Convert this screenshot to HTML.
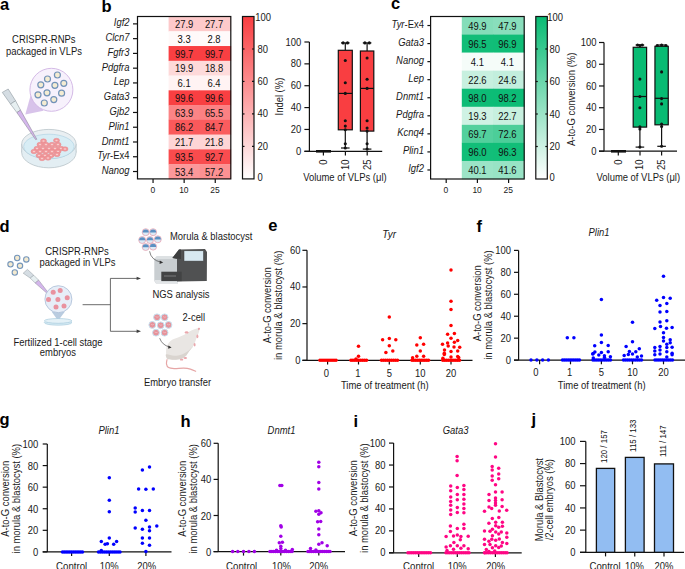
<!DOCTYPE html>
<html><head><meta charset="utf-8"><style>
html,body{margin:0;padding:0;background:#fff;}
svg{display:block;font-family:"Liberation Sans",sans-serif;}
</style></head><body>
<svg width="685" height="569" viewBox="0 0 685 569">
<rect width="685" height="569" fill="#fff"/>
<text transform="translate(0.00 9.90) scale(1 1.0)" font-size="16.5" text-anchor="start" font-weight="bold" font-style="normal" fill="#000">a</text>
<text transform="translate(101.50 11.90) scale(1 1.0)" font-size="16.5" text-anchor="start" font-weight="bold" font-style="normal" fill="#000">b</text>
<text transform="translate(391.00 9.00) scale(1 1.0)" font-size="16.5" text-anchor="start" font-weight="bold" font-style="normal" fill="#000">c</text>
<text transform="translate(-0.50 232.10) scale(1 1.0)" font-size="16.5" text-anchor="start" font-weight="bold" font-style="normal" fill="#000">d</text>
<text transform="translate(268.30 230.80) scale(1 1.0)" font-size="16.5" text-anchor="start" font-weight="bold" font-style="normal" fill="#000">e</text>
<text transform="translate(476.60 231.70) scale(1 1.0)" font-size="16.5" text-anchor="start" font-weight="bold" font-style="normal" fill="#000">f</text>
<text transform="translate(-0.60 425.00) scale(1 1.0)" font-size="16.5" text-anchor="start" font-weight="bold" font-style="normal" fill="#000">g</text>
<text transform="translate(180.60 427.00) scale(1 1.0)" font-size="16.5" text-anchor="start" font-weight="bold" font-style="normal" fill="#000">h</text>
<text transform="translate(353.60 427.00) scale(1 1.0)" font-size="16.5" text-anchor="start" font-weight="bold" font-style="normal" fill="#000">i</text>
<text transform="translate(531.60 425.00) scale(1 1.0)" font-size="16.5" text-anchor="start" font-weight="bold" font-style="normal" fill="#000">j</text>
<rect x="168.6" y="16.5" width="31.400000000000006" height="15.063636363636364" fill="#fdc9ca" stroke="none" stroke-width="1.1"/>
<text transform="translate(184.15 28.00) scale(1 1.07)" font-size="9.45" text-anchor="middle" font-weight="normal" font-style="normal" fill="#111">27.9</text>
<rect x="199.70000000000002" y="16.5" width="31.400000000000006" height="15.063636363636364" fill="#fdcaca" stroke="none" stroke-width="1.1"/>
<text transform="translate(214.05 28.00) scale(1 1.07)" font-size="9.45" text-anchor="middle" font-weight="normal" font-style="normal" fill="#111">27.7</text>
<line x1="133.0" y1="23.881818181818183" x2="137.5" y2="23.881818181818183" stroke="#111" stroke-width="1.2"/>
<text transform="translate(129.50 26.40) scale(1 1.07)" font-size="9.45" text-anchor="end" font-weight="normal" font-style="italic" fill="#1a1a1a">Igf2</text>
<rect x="168.6" y="31.263636363636365" width="31.400000000000006" height="15.063636363636364" fill="#fff9f9" stroke="none" stroke-width="1.1"/>
<text transform="translate(184.15 42.77) scale(1 1.07)" font-size="9.45" text-anchor="middle" font-weight="normal" font-style="normal" fill="#111">3.3</text>
<rect x="199.70000000000002" y="31.263636363636365" width="31.400000000000006" height="15.063636363636364" fill="#fffafa" stroke="none" stroke-width="1.1"/>
<text transform="translate(214.05 42.77) scale(1 1.07)" font-size="9.45" text-anchor="middle" font-weight="normal" font-style="normal" fill="#111">2.8</text>
<line x1="133.0" y1="38.64545454545455" x2="137.5" y2="38.64545454545455" stroke="#111" stroke-width="1.2"/>
<text transform="translate(129.50 41.17) scale(1 1.07)" font-size="9.45" text-anchor="end" font-weight="normal" font-style="italic" fill="#1a1a1a">Clcn7</text>
<rect x="168.6" y="46.02727272727273" width="31.400000000000006" height="15.063636363636364" fill="#f93f42" stroke="none" stroke-width="1.1"/>
<text transform="translate(184.15 57.53) scale(1 1.07)" font-size="9.45" text-anchor="middle" font-weight="normal" font-style="normal" fill="#111">99.7</text>
<rect x="199.70000000000002" y="46.02727272727273" width="31.400000000000006" height="15.063636363636364" fill="#f93f42" stroke="none" stroke-width="1.1"/>
<text transform="translate(214.05 57.53) scale(1 1.07)" font-size="9.45" text-anchor="middle" font-weight="normal" font-style="normal" fill="#111">99.7</text>
<line x1="133.0" y1="53.409090909090914" x2="137.5" y2="53.409090909090914" stroke="#111" stroke-width="1.2"/>
<text transform="translate(129.50 55.93) scale(1 1.07)" font-size="9.45" text-anchor="end" font-weight="normal" font-style="italic" fill="#1a1a1a">Fgfr3</text>
<rect x="168.6" y="60.79090909090909" width="31.400000000000006" height="15.063636363636364" fill="#fed9d9" stroke="none" stroke-width="1.1"/>
<text transform="translate(184.15 72.29) scale(1 1.07)" font-size="9.45" text-anchor="middle" font-weight="normal" font-style="normal" fill="#111">19.9</text>
<rect x="199.70000000000002" y="60.79090909090909" width="31.400000000000006" height="15.063636363636364" fill="#fedbdb" stroke="none" stroke-width="1.1"/>
<text transform="translate(214.05 72.29) scale(1 1.07)" font-size="9.45" text-anchor="middle" font-weight="normal" font-style="normal" fill="#111">18.8</text>
<line x1="133.0" y1="68.17272727272727" x2="137.5" y2="68.17272727272727" stroke="#111" stroke-width="1.2"/>
<text transform="translate(129.50 70.69) scale(1 1.07)" font-size="9.45" text-anchor="end" font-weight="normal" font-style="italic" fill="#1a1a1a">Pdgfra</text>
<rect x="168.6" y="75.55454545454546" width="31.400000000000006" height="15.063636363636364" fill="#fff3f3" stroke="none" stroke-width="1.1"/>
<text transform="translate(184.15 87.06) scale(1 1.07)" font-size="9.45" text-anchor="middle" font-weight="normal" font-style="normal" fill="#111">6.1</text>
<rect x="199.70000000000002" y="75.55454545454546" width="31.400000000000006" height="15.063636363636364" fill="#fff3f3" stroke="none" stroke-width="1.1"/>
<text transform="translate(214.05 87.06) scale(1 1.07)" font-size="9.45" text-anchor="middle" font-weight="normal" font-style="normal" fill="#111">6.4</text>
<line x1="133.0" y1="82.93636363636364" x2="137.5" y2="82.93636363636364" stroke="#111" stroke-width="1.2"/>
<text transform="translate(129.50 85.46) scale(1 1.07)" font-size="9.45" text-anchor="end" font-weight="normal" font-style="italic" fill="#1a1a1a">Lep</text>
<rect x="168.6" y="90.31818181818181" width="31.400000000000006" height="15.063636363636364" fill="#f93f42" stroke="none" stroke-width="1.1"/>
<text transform="translate(184.15 101.82) scale(1 1.07)" font-size="9.45" text-anchor="middle" font-weight="normal" font-style="normal" fill="#111">99.6</text>
<rect x="199.70000000000002" y="90.31818181818181" width="31.400000000000006" height="15.063636363636364" fill="#f93f42" stroke="none" stroke-width="1.1"/>
<text transform="translate(214.05 101.82) scale(1 1.07)" font-size="9.45" text-anchor="middle" font-weight="normal" font-style="normal" fill="#111">99.6</text>
<line x1="133.0" y1="97.69999999999999" x2="137.5" y2="97.69999999999999" stroke="#111" stroke-width="1.2"/>
<text transform="translate(129.50 100.22) scale(1 1.07)" font-size="9.45" text-anchor="end" font-weight="normal" font-style="italic" fill="#1a1a1a">Gata3</text>
<rect x="168.6" y="105.08181818181818" width="31.400000000000006" height="15.063636363636364" fill="#fb8486" stroke="none" stroke-width="1.1"/>
<text transform="translate(184.15 116.58) scale(1 1.07)" font-size="9.45" text-anchor="middle" font-weight="normal" font-style="normal" fill="#111">63.9</text>
<rect x="199.70000000000002" y="105.08181818181818" width="31.400000000000006" height="15.063636363636364" fill="#fb8183" stroke="none" stroke-width="1.1"/>
<text transform="translate(214.05 116.58) scale(1 1.07)" font-size="9.45" text-anchor="middle" font-weight="normal" font-style="normal" fill="#111">65.5</text>
<line x1="133.0" y1="112.46363636363635" x2="137.5" y2="112.46363636363635" stroke="#111" stroke-width="1.2"/>
<text transform="translate(129.50 114.98) scale(1 1.07)" font-size="9.45" text-anchor="end" font-weight="normal" font-style="italic" fill="#1a1a1a">Gjb2</text>
<rect x="168.6" y="119.84545454545454" width="31.400000000000006" height="15.063636363636364" fill="#fa595b" stroke="none" stroke-width="1.1"/>
<text transform="translate(184.15 131.35) scale(1 1.07)" font-size="9.45" text-anchor="middle" font-weight="normal" font-style="normal" fill="#111">86.2</text>
<rect x="199.70000000000002" y="119.84545454545454" width="31.400000000000006" height="15.063636363636364" fill="#fa5c5e" stroke="none" stroke-width="1.1"/>
<text transform="translate(214.05 131.35) scale(1 1.07)" font-size="9.45" text-anchor="middle" font-weight="normal" font-style="normal" fill="#111">84.7</text>
<line x1="133.0" y1="127.22727272727272" x2="137.5" y2="127.22727272727272" stroke="#111" stroke-width="1.2"/>
<text transform="translate(129.50 129.75) scale(1 1.07)" font-size="9.45" text-anchor="end" font-weight="normal" font-style="italic" fill="#1a1a1a">Plin1</text>
<rect x="168.6" y="134.60909090909092" width="31.400000000000006" height="15.063636363636364" fill="#fed5d6" stroke="none" stroke-width="1.1"/>
<text transform="translate(184.15 146.11) scale(1 1.07)" font-size="9.45" text-anchor="middle" font-weight="normal" font-style="normal" fill="#111">21.7</text>
<rect x="199.70000000000002" y="134.60909090909092" width="31.400000000000006" height="15.063636363636364" fill="#fed5d6" stroke="none" stroke-width="1.1"/>
<text transform="translate(214.05 146.11) scale(1 1.07)" font-size="9.45" text-anchor="middle" font-weight="normal" font-style="normal" fill="#111">21.8</text>
<line x1="133.0" y1="141.9909090909091" x2="137.5" y2="141.9909090909091" stroke="#111" stroke-width="1.2"/>
<text transform="translate(129.50 144.51) scale(1 1.07)" font-size="9.45" text-anchor="end" font-weight="normal" font-style="italic" fill="#1a1a1a">Dnmt1</text>
<rect x="168.6" y="149.37272727272727" width="31.400000000000006" height="15.063636363636364" fill="#f94b4d" stroke="none" stroke-width="1.1"/>
<text transform="translate(184.15 160.87) scale(1 1.07)" font-size="9.45" text-anchor="middle" font-weight="normal" font-style="normal" fill="#111">93.5</text>
<rect x="199.70000000000002" y="149.37272727272727" width="31.400000000000006" height="15.063636363636364" fill="#f94c4f" stroke="none" stroke-width="1.1"/>
<text transform="translate(214.05 160.87) scale(1 1.07)" font-size="9.45" text-anchor="middle" font-weight="normal" font-style="normal" fill="#111">92.7</text>
<line x1="133.0" y1="156.75454545454545" x2="137.5" y2="156.75454545454545" stroke="#111" stroke-width="1.2"/>
<text transform="translate(129.5 159.27446245454544) scale(1 1.07)" font-size="9.45" text-anchor="end" fill="#1a1a1a"><tspan font-style="italic">Tyr</tspan>-Ex4</text>
<rect x="168.6" y="164.13636363636363" width="31.400000000000006" height="15.063636363636364" fill="#fc989a" stroke="none" stroke-width="1.1"/>
<text transform="translate(184.15 175.64) scale(1 1.07)" font-size="9.45" text-anchor="middle" font-weight="normal" font-style="normal" fill="#111">53.4</text>
<rect x="199.70000000000002" y="164.13636363636363" width="31.400000000000006" height="15.063636363636364" fill="#fc9192" stroke="none" stroke-width="1.1"/>
<text transform="translate(214.05 175.64) scale(1 1.07)" font-size="9.45" text-anchor="middle" font-weight="normal" font-style="normal" fill="#111">57.2</text>
<line x1="133.0" y1="171.5181818181818" x2="137.5" y2="171.5181818181818" stroke="#111" stroke-width="1.2"/>
<text transform="translate(129.50 174.04) scale(1 1.07)" font-size="9.45" text-anchor="end" font-weight="normal" font-style="italic" fill="#1a1a1a">Nanog</text>
<rect x="137.5" y="16.5" width="93.30000000000001" height="162.4" fill="none" stroke="#111" stroke-width="1.2"/>
<line x1="153.05" y1="178.9" x2="153.05" y2="182.9" stroke="#111" stroke-width="1.2"/>
<text transform="translate(152.75 192.60) scale(1 1.12)" font-size="8.5" text-anchor="middle" font-weight="normal" font-style="normal" fill="#1a1a1a">0</text>
<line x1="184.15" y1="178.9" x2="184.15" y2="182.9" stroke="#111" stroke-width="1.2"/>
<text transform="translate(183.85 192.60) scale(1 1.12)" font-size="8.5" text-anchor="middle" font-weight="normal" font-style="normal" fill="#1a1a1a">10</text>
<line x1="215.25" y1="178.9" x2="215.25" y2="182.9" stroke="#111" stroke-width="1.2"/>
<text transform="translate(214.95 192.60) scale(1 1.12)" font-size="8.5" text-anchor="middle" font-weight="normal" font-style="normal" fill="#1a1a1a">25</text>
<defs><linearGradient id="gr" x1="0" y1="1" x2="0" y2="0"><stop offset="0" stop-color="#ffffff"/><stop offset="1" stop-color="#f93e41"/></linearGradient></defs>
<rect x="242.5" y="16.5" width="11.5" height="162.4" fill="url(#gr)" stroke="#111" stroke-width="1.2"/>
<text transform="translate(257.50 180.92) scale(1 1.07)" font-size="9.45" text-anchor="start" font-weight="normal" font-style="normal" fill="#1a1a1a">0</text>
<line x1="242.5" y1="146.42000000000002" x2="244.5" y2="146.42000000000002" stroke="#111" stroke-width="1.2"/>
<line x1="252" y1="146.42000000000002" x2="254" y2="146.42000000000002" stroke="#111" stroke-width="1.2"/>
<text transform="translate(257.50 149.94) scale(1 1.07)" font-size="9.45" text-anchor="start" font-weight="normal" font-style="normal" fill="#1a1a1a">20</text>
<line x1="242.5" y1="113.94000000000001" x2="244.5" y2="113.94000000000001" stroke="#111" stroke-width="1.2"/>
<line x1="252" y1="113.94000000000001" x2="254" y2="113.94000000000001" stroke="#111" stroke-width="1.2"/>
<text transform="translate(257.50 117.46) scale(1 1.07)" font-size="9.45" text-anchor="start" font-weight="normal" font-style="normal" fill="#1a1a1a">40</text>
<line x1="242.5" y1="81.46000000000001" x2="244.5" y2="81.46000000000001" stroke="#111" stroke-width="1.2"/>
<line x1="252" y1="81.46000000000001" x2="254" y2="81.46000000000001" stroke="#111" stroke-width="1.2"/>
<text transform="translate(257.50 84.98) scale(1 1.07)" font-size="9.45" text-anchor="start" font-weight="normal" font-style="normal" fill="#1a1a1a">60</text>
<line x1="242.5" y1="48.98000000000002" x2="244.5" y2="48.98000000000002" stroke="#111" stroke-width="1.2"/>
<line x1="252" y1="48.98000000000002" x2="254" y2="48.98000000000002" stroke="#111" stroke-width="1.2"/>
<text transform="translate(257.50 52.50) scale(1 1.07)" font-size="9.45" text-anchor="start" font-weight="normal" font-style="normal" fill="#1a1a1a">80</text>
<text transform="translate(255.20 20.62) scale(1 1.07)" font-size="9.45" text-anchor="start" font-weight="normal" font-style="normal" fill="#1a1a1a">100</text>
<line x1="309.4" y1="42.0" x2="309.4" y2="151.3" stroke="#111" stroke-width="1.2"/>
<line x1="304.4" y1="151.3" x2="382.2" y2="151.3" stroke="#111" stroke-width="1.2"/>
<line x1="304.4" y1="151.3" x2="309.4" y2="151.3" stroke="#111" stroke-width="1.2"/>
<text transform="translate(301.20 154.82) scale(1 1.07)" font-size="9.45" text-anchor="end" font-weight="normal" font-style="normal" fill="#1a1a1a">0</text>
<line x1="304.4" y1="129.44" x2="309.4" y2="129.44" stroke="#111" stroke-width="1.2"/>
<text transform="translate(301.20 132.96) scale(1 1.07)" font-size="9.45" text-anchor="end" font-weight="normal" font-style="normal" fill="#1a1a1a">20</text>
<line x1="304.4" y1="107.58000000000001" x2="309.4" y2="107.58000000000001" stroke="#111" stroke-width="1.2"/>
<text transform="translate(301.20 111.10) scale(1 1.07)" font-size="9.45" text-anchor="end" font-weight="normal" font-style="normal" fill="#1a1a1a">40</text>
<line x1="304.4" y1="85.72" x2="309.4" y2="85.72" stroke="#111" stroke-width="1.2"/>
<text transform="translate(301.20 89.24) scale(1 1.07)" font-size="9.45" text-anchor="end" font-weight="normal" font-style="normal" fill="#1a1a1a">60</text>
<line x1="304.4" y1="63.860000000000014" x2="309.4" y2="63.860000000000014" stroke="#111" stroke-width="1.2"/>
<text transform="translate(301.20 67.38) scale(1 1.07)" font-size="9.45" text-anchor="end" font-weight="normal" font-style="normal" fill="#1a1a1a">80</text>
<line x1="304.4" y1="42.0" x2="309.4" y2="42.0" stroke="#111" stroke-width="1.2"/>
<text transform="translate(301.20 45.52) scale(1 1.07)" font-size="9.45" text-anchor="end" font-weight="normal" font-style="normal" fill="#1a1a1a">100</text>
<line x1="323.4" y1="151.3" x2="323.4" y2="155.60000000000002" stroke="#111" stroke-width="1.2"/>
<text transform="translate(326.78 159.50) rotate(-90) scale(1 1.07)" font-size="9.45" text-anchor="end" font-weight="normal" font-style="normal" fill="#1a1a1a">0</text>
<line x1="345.4" y1="151.3" x2="345.4" y2="155.60000000000002" stroke="#111" stroke-width="1.2"/>
<text transform="translate(348.78 159.50) rotate(-90) scale(1 1.07)" font-size="9.45" text-anchor="end" font-weight="normal" font-style="normal" fill="#1a1a1a">10</text>
<line x1="367.2" y1="151.3" x2="367.2" y2="155.60000000000002" stroke="#111" stroke-width="1.2"/>
<text transform="translate(370.58 159.50) rotate(-90) scale(1 1.07)" font-size="9.45" text-anchor="end" font-weight="normal" font-style="normal" fill="#1a1a1a">25</text>
<text transform="translate(283.40 96.60) rotate(-90) scale(1 1.07)" font-size="9.45" text-anchor="middle" font-weight="normal" font-style="normal" fill="#1a1a1a">Indel (%)</text>
<text transform="translate(344.90 181.20) scale(1 1.07)" font-size="9.45" text-anchor="middle" font-weight="normal" font-style="normal" fill="#1a1a1a">Volume of VLPs (μl)</text>
<line x1="316" y1="151.3" x2="331" y2="151.3" stroke="#111" stroke-width="2.6"/>
<line x1="345.3" y1="42.9" x2="345.3" y2="50.3" stroke="#111" stroke-width="1.2"/>
<line x1="345.3" y1="129.8" x2="345.3" y2="148.0" stroke="#111" stroke-width="1.2"/>
<line x1="341.0" y1="42.9" x2="349.6" y2="42.9" stroke="#111" stroke-width="1.2"/>
<line x1="341.0" y1="148.0" x2="349.6" y2="148.0" stroke="#111" stroke-width="1.2"/>
<rect x="338.3" y="50.3" width="14.0" height="79.50000000000001" fill="#f93e41" stroke="#111" stroke-width="1.2"/>
<line x1="338.3" y1="93.4" x2="352.3" y2="93.4" stroke="#111" stroke-width="1.2"/>
<circle cx="343.10" cy="42.90" r="1.55" fill="#111" stroke="none" stroke-width="0"/>
<circle cx="347.50" cy="42.90" r="1.55" fill="#111" stroke="none" stroke-width="0"/>
<circle cx="345.30" cy="60.50" r="1.55" fill="#111" stroke="none" stroke-width="0"/>
<circle cx="345.30" cy="82.70" r="1.55" fill="#111" stroke="none" stroke-width="0"/>
<circle cx="345.30" cy="93.40" r="1.55" fill="#111" stroke="none" stroke-width="0"/>
<circle cx="345.30" cy="120.80" r="1.55" fill="#111" stroke="none" stroke-width="0"/>
<circle cx="345.30" cy="126.10" r="1.55" fill="#111" stroke="none" stroke-width="0"/>
<circle cx="345.30" cy="129.80" r="1.55" fill="#111" stroke="none" stroke-width="0"/>
<circle cx="345.30" cy="143.70" r="1.55" fill="#111" stroke="none" stroke-width="0"/>
<circle cx="345.30" cy="148.00" r="1.55" fill="#111" stroke="none" stroke-width="0"/>
<line x1="367.1" y1="42.9" x2="367.1" y2="51.0" stroke="#111" stroke-width="1.2"/>
<line x1="367.1" y1="131.1" x2="367.1" y2="149.1" stroke="#111" stroke-width="1.2"/>
<line x1="362.8" y1="42.9" x2="371.40000000000003" y2="42.9" stroke="#111" stroke-width="1.2"/>
<line x1="362.8" y1="149.1" x2="371.40000000000003" y2="149.1" stroke="#111" stroke-width="1.2"/>
<rect x="360.40000000000003" y="51.0" width="13.4" height="80.1" fill="#f93e41" stroke="#111" stroke-width="1.2"/>
<line x1="360.40000000000003" y1="88.4" x2="373.8" y2="88.4" stroke="#111" stroke-width="1.2"/>
<circle cx="364.90" cy="42.90" r="1.55" fill="#111" stroke="none" stroke-width="0"/>
<circle cx="369.30" cy="42.90" r="1.55" fill="#111" stroke="none" stroke-width="0"/>
<circle cx="367.10" cy="58.00" r="1.55" fill="#111" stroke="none" stroke-width="0"/>
<circle cx="367.10" cy="79.20" r="1.55" fill="#111" stroke="none" stroke-width="0"/>
<circle cx="367.10" cy="88.40" r="1.55" fill="#111" stroke="none" stroke-width="0"/>
<circle cx="367.10" cy="120.80" r="1.55" fill="#111" stroke="none" stroke-width="0"/>
<circle cx="367.10" cy="128.00" r="1.55" fill="#111" stroke="none" stroke-width="0"/>
<circle cx="367.10" cy="131.10" r="1.55" fill="#111" stroke="none" stroke-width="0"/>
<circle cx="367.10" cy="143.80" r="1.55" fill="#111" stroke="none" stroke-width="0"/>
<circle cx="367.10" cy="149.10" r="1.55" fill="#111" stroke="none" stroke-width="0"/>
<rect x="461.8" y="16.5" width="31.500000000000007" height="18.355555555555558" fill="#84ddb9" stroke="none" stroke-width="1.1"/>
<text transform="translate(477.40 29.65) scale(1 1.07)" font-size="9.45" text-anchor="middle" font-weight="normal" font-style="normal" fill="#111">49.9</text>
<rect x="493.00000000000006" y="16.5" width="31.500000000000007" height="18.355555555555558" fill="#89debc" stroke="none" stroke-width="1.1"/>
<text transform="translate(507.40 29.65) scale(1 1.07)" font-size="9.45" text-anchor="middle" font-weight="normal" font-style="normal" fill="#111">47.9</text>
<line x1="427.4" y1="25.52777777777778" x2="430.6" y2="25.52777777777778" stroke="#111" stroke-width="1.2"/>
<text transform="translate(423.9 28.047694777777778) scale(1 1.07)" font-size="9.45" text-anchor="end" fill="#1a1a1a"><tspan font-style="italic">Tyr</tspan>-Ex4</text>
<rect x="461.8" y="34.55555555555556" width="31.500000000000007" height="18.355555555555558" fill="#11bd78" stroke="none" stroke-width="1.1"/>
<text transform="translate(477.40 47.70) scale(1 1.07)" font-size="9.45" text-anchor="middle" font-weight="normal" font-style="normal" fill="#111">96.5</text>
<rect x="493.00000000000006" y="34.55555555555556" width="31.500000000000007" height="18.355555555555558" fill="#10bd77" stroke="none" stroke-width="1.1"/>
<text transform="translate(507.40 47.70) scale(1 1.07)" font-size="9.45" text-anchor="middle" font-weight="normal" font-style="normal" fill="#111">96.9</text>
<line x1="427.4" y1="43.583333333333336" x2="430.6" y2="43.583333333333336" stroke="#111" stroke-width="1.2"/>
<text transform="translate(423.90 46.10) scale(1 1.07)" font-size="9.45" text-anchor="end" font-weight="normal" font-style="italic" fill="#1a1a1a">Gata3</text>
<rect x="461.8" y="52.611111111111114" width="31.500000000000007" height="18.355555555555558" fill="#f5fcf9" stroke="none" stroke-width="1.1"/>
<text transform="translate(477.40 65.76) scale(1 1.07)" font-size="9.45" text-anchor="middle" font-weight="normal" font-style="normal" fill="#111">4.1</text>
<rect x="493.00000000000006" y="52.611111111111114" width="31.500000000000007" height="18.355555555555558" fill="#f5fcf9" stroke="none" stroke-width="1.1"/>
<text transform="translate(507.40 65.76) scale(1 1.07)" font-size="9.45" text-anchor="middle" font-weight="normal" font-style="normal" fill="#111">4.1</text>
<line x1="427.4" y1="61.63888888888889" x2="430.6" y2="61.63888888888889" stroke="#111" stroke-width="1.2"/>
<text transform="translate(423.90 64.16) scale(1 1.07)" font-size="9.45" text-anchor="end" font-weight="normal" font-style="italic" fill="#1a1a1a">Nanog</text>
<rect x="461.8" y="70.66666666666667" width="31.500000000000007" height="18.355555555555558" fill="#c7f0df" stroke="none" stroke-width="1.1"/>
<text transform="translate(477.40 83.81) scale(1 1.07)" font-size="9.45" text-anchor="middle" font-weight="normal" font-style="normal" fill="#111">22.6</text>
<rect x="493.00000000000006" y="70.66666666666667" width="31.500000000000007" height="18.355555555555558" fill="#c2eedd" stroke="none" stroke-width="1.1"/>
<text transform="translate(507.40 83.81) scale(1 1.07)" font-size="9.45" text-anchor="middle" font-weight="normal" font-style="normal" fill="#111">24.6</text>
<line x1="427.4" y1="79.69444444444446" x2="430.6" y2="79.69444444444446" stroke="#111" stroke-width="1.2"/>
<text transform="translate(423.90 82.21) scale(1 1.07)" font-size="9.45" text-anchor="end" font-weight="normal" font-style="italic" fill="#1a1a1a">Lep</text>
<rect x="461.8" y="88.72222222222223" width="31.500000000000007" height="18.355555555555558" fill="#0dbc76" stroke="none" stroke-width="1.1"/>
<text transform="translate(477.40 101.87) scale(1 1.07)" font-size="9.45" text-anchor="middle" font-weight="normal" font-style="normal" fill="#111">98.0</text>
<rect x="493.00000000000006" y="88.72222222222223" width="31.500000000000007" height="18.355555555555558" fill="#0cbc76" stroke="none" stroke-width="1.1"/>
<text transform="translate(507.40 101.87) scale(1 1.07)" font-size="9.45" text-anchor="middle" font-weight="normal" font-style="normal" fill="#111">98.2</text>
<line x1="427.4" y1="97.75" x2="430.6" y2="97.75" stroke="#111" stroke-width="1.2"/>
<text transform="translate(423.90 100.27) scale(1 1.07)" font-size="9.45" text-anchor="end" font-weight="normal" font-style="italic" fill="#1a1a1a">Dnmt1</text>
<rect x="461.8" y="106.77777777777779" width="31.500000000000007" height="18.355555555555558" fill="#cff2e4" stroke="none" stroke-width="1.1"/>
<text transform="translate(477.40 119.93) scale(1 1.07)" font-size="9.45" text-anchor="middle" font-weight="normal" font-style="normal" fill="#111">19.3</text>
<rect x="493.00000000000006" y="106.77777777777779" width="31.500000000000007" height="18.355555555555558" fill="#c7f0df" stroke="none" stroke-width="1.1"/>
<text transform="translate(507.40 119.93) scale(1 1.07)" font-size="9.45" text-anchor="middle" font-weight="normal" font-style="normal" fill="#111">22.7</text>
<line x1="427.4" y1="115.80555555555557" x2="430.6" y2="115.80555555555557" stroke="#111" stroke-width="1.2"/>
<text transform="translate(423.90 118.33) scale(1 1.07)" font-size="9.45" text-anchor="end" font-weight="normal" font-style="italic" fill="#1a1a1a">Pdgfra</text>
<rect x="461.8" y="124.83333333333334" width="31.500000000000007" height="18.355555555555558" fill="#53d09d" stroke="none" stroke-width="1.1"/>
<text transform="translate(477.40 137.98) scale(1 1.07)" font-size="9.45" text-anchor="middle" font-weight="normal" font-style="normal" fill="#111">69.7</text>
<rect x="493.00000000000006" y="124.83333333333334" width="31.500000000000007" height="18.355555555555558" fill="#4cce99" stroke="none" stroke-width="1.1"/>
<text transform="translate(507.40 137.98) scale(1 1.07)" font-size="9.45" text-anchor="middle" font-weight="normal" font-style="normal" fill="#111">72.6</text>
<line x1="427.4" y1="133.86111111111111" x2="430.6" y2="133.86111111111111" stroke="#111" stroke-width="1.2"/>
<text transform="translate(423.90 136.38) scale(1 1.07)" font-size="9.45" text-anchor="end" font-weight="normal" font-style="italic" fill="#1a1a1a">Kcnq4</text>
<rect x="461.8" y="142.8888888888889" width="31.500000000000007" height="18.355555555555558" fill="#12be79" stroke="none" stroke-width="1.1"/>
<text transform="translate(477.40 156.04) scale(1 1.07)" font-size="9.45" text-anchor="middle" font-weight="normal" font-style="normal" fill="#111">96.0</text>
<rect x="493.00000000000006" y="142.8888888888889" width="31.500000000000007" height="18.355555555555558" fill="#11be78" stroke="none" stroke-width="1.1"/>
<text transform="translate(507.40 156.04) scale(1 1.07)" font-size="9.45" text-anchor="middle" font-weight="normal" font-style="normal" fill="#111">96.3</text>
<line x1="427.4" y1="151.91666666666669" x2="430.6" y2="151.91666666666669" stroke="#111" stroke-width="1.2"/>
<text transform="translate(423.90 154.44) scale(1 1.07)" font-size="9.45" text-anchor="end" font-weight="normal" font-style="italic" fill="#1a1a1a">Plin1</text>
<rect x="461.8" y="160.94444444444446" width="31.500000000000007" height="18.355555555555558" fill="#9ce4c7" stroke="none" stroke-width="1.1"/>
<text transform="translate(477.40 174.09) scale(1 1.07)" font-size="9.45" text-anchor="middle" font-weight="normal" font-style="normal" fill="#111">40.1</text>
<rect x="493.00000000000006" y="160.94444444444446" width="31.500000000000007" height="18.355555555555558" fill="#98e3c5" stroke="none" stroke-width="1.1"/>
<text transform="translate(507.40 174.09) scale(1 1.07)" font-size="9.45" text-anchor="middle" font-weight="normal" font-style="normal" fill="#111">41.6</text>
<line x1="427.4" y1="169.97222222222223" x2="430.6" y2="169.97222222222223" stroke="#111" stroke-width="1.2"/>
<text transform="translate(423.90 172.49) scale(1 1.07)" font-size="9.45" text-anchor="end" font-weight="normal" font-style="italic" fill="#1a1a1a">Igf2</text>
<rect x="430.6" y="16.5" width="93.60000000000002" height="162.5" fill="none" stroke="#111" stroke-width="1.2"/>
<line x1="446.20000000000005" y1="179.0" x2="446.20000000000005" y2="183.0" stroke="#111" stroke-width="1.2"/>
<text transform="translate(445.90 192.60) scale(1 1.12)" font-size="8.5" text-anchor="middle" font-weight="normal" font-style="normal" fill="#1a1a1a">0</text>
<line x1="477.40000000000003" y1="179.0" x2="477.40000000000003" y2="183.0" stroke="#111" stroke-width="1.2"/>
<text transform="translate(477.10 192.60) scale(1 1.12)" font-size="8.5" text-anchor="middle" font-weight="normal" font-style="normal" fill="#1a1a1a">10</text>
<line x1="508.6" y1="179.0" x2="508.6" y2="183.0" stroke="#111" stroke-width="1.2"/>
<text transform="translate(508.30 192.60) scale(1 1.12)" font-size="8.5" text-anchor="middle" font-weight="normal" font-style="normal" fill="#1a1a1a">25</text>
<defs><linearGradient id="gg" x1="0" y1="1" x2="0" y2="0"><stop offset="0" stop-color="#ffffff"/><stop offset="1" stop-color="#08bb73"/></linearGradient></defs>
<rect x="535.8" y="16.5" width="11.5" height="162.5" fill="url(#gg)" stroke="#111" stroke-width="1.2"/>
<text transform="translate(549.50 181.02) scale(1 1.07)" font-size="9.45" text-anchor="start" font-weight="normal" font-style="normal" fill="#1a1a1a">0</text>
<line x1="535.8" y1="146.5" x2="537.8" y2="146.5" stroke="#111" stroke-width="1.2"/>
<line x1="545.3" y1="146.5" x2="547.3" y2="146.5" stroke="#111" stroke-width="1.2"/>
<text transform="translate(549.50 150.02) scale(1 1.07)" font-size="9.45" text-anchor="start" font-weight="normal" font-style="normal" fill="#1a1a1a">20</text>
<line x1="535.8" y1="114.0" x2="537.8" y2="114.0" stroke="#111" stroke-width="1.2"/>
<line x1="545.3" y1="114.0" x2="547.3" y2="114.0" stroke="#111" stroke-width="1.2"/>
<text transform="translate(549.50 117.52) scale(1 1.07)" font-size="9.45" text-anchor="start" font-weight="normal" font-style="normal" fill="#1a1a1a">40</text>
<line x1="535.8" y1="81.5" x2="537.8" y2="81.5" stroke="#111" stroke-width="1.2"/>
<line x1="545.3" y1="81.5" x2="547.3" y2="81.5" stroke="#111" stroke-width="1.2"/>
<text transform="translate(549.50 85.02) scale(1 1.07)" font-size="9.45" text-anchor="start" font-weight="normal" font-style="normal" fill="#1a1a1a">60</text>
<line x1="535.8" y1="49.0" x2="537.8" y2="49.0" stroke="#111" stroke-width="1.2"/>
<line x1="545.3" y1="49.0" x2="547.3" y2="49.0" stroke="#111" stroke-width="1.2"/>
<text transform="translate(549.50 52.52) scale(1 1.07)" font-size="9.45" text-anchor="start" font-weight="normal" font-style="normal" fill="#1a1a1a">80</text>
<text transform="translate(547.20 20.62) scale(1 1.07)" font-size="9.45" text-anchor="start" font-weight="normal" font-style="normal" fill="#1a1a1a">100</text>
<line x1="604.0" y1="42.5" x2="604.0" y2="151.2" stroke="#111" stroke-width="1.2"/>
<line x1="599.0" y1="151.2" x2="677" y2="151.2" stroke="#111" stroke-width="1.2"/>
<line x1="599.0" y1="151.2" x2="604.0" y2="151.2" stroke="#111" stroke-width="1.2"/>
<text transform="translate(596.50 154.72) scale(1 1.07)" font-size="9.45" text-anchor="end" font-weight="normal" font-style="normal" fill="#1a1a1a">0</text>
<line x1="599.0" y1="129.45999999999998" x2="604.0" y2="129.45999999999998" stroke="#111" stroke-width="1.2"/>
<text transform="translate(596.50 132.98) scale(1 1.07)" font-size="9.45" text-anchor="end" font-weight="normal" font-style="normal" fill="#1a1a1a">20</text>
<line x1="599.0" y1="107.72" x2="604.0" y2="107.72" stroke="#111" stroke-width="1.2"/>
<text transform="translate(596.50 111.24) scale(1 1.07)" font-size="9.45" text-anchor="end" font-weight="normal" font-style="normal" fill="#1a1a1a">40</text>
<line x1="599.0" y1="85.98" x2="604.0" y2="85.98" stroke="#111" stroke-width="1.2"/>
<text transform="translate(596.50 89.50) scale(1 1.07)" font-size="9.45" text-anchor="end" font-weight="normal" font-style="normal" fill="#1a1a1a">60</text>
<line x1="599.0" y1="64.24" x2="604.0" y2="64.24" stroke="#111" stroke-width="1.2"/>
<text transform="translate(596.50 67.76) scale(1 1.07)" font-size="9.45" text-anchor="end" font-weight="normal" font-style="normal" fill="#1a1a1a">80</text>
<line x1="599.0" y1="42.5" x2="604.0" y2="42.5" stroke="#111" stroke-width="1.2"/>
<text transform="translate(596.50 46.02) scale(1 1.07)" font-size="9.45" text-anchor="end" font-weight="normal" font-style="normal" fill="#1a1a1a">100</text>
<line x1="618.3" y1="151.2" x2="618.3" y2="155.5" stroke="#111" stroke-width="1.2"/>
<text transform="translate(621.68 159.50) rotate(-90) scale(1 1.07)" font-size="9.45" text-anchor="end" font-weight="normal" font-style="normal" fill="#1a1a1a">0</text>
<line x1="640" y1="151.2" x2="640" y2="155.5" stroke="#111" stroke-width="1.2"/>
<text transform="translate(643.38 159.50) rotate(-90) scale(1 1.07)" font-size="9.45" text-anchor="end" font-weight="normal" font-style="normal" fill="#1a1a1a">10</text>
<line x1="661.6" y1="151.2" x2="661.6" y2="155.5" stroke="#111" stroke-width="1.2"/>
<text transform="translate(664.98 159.50) rotate(-90) scale(1 1.07)" font-size="9.45" text-anchor="end" font-weight="normal" font-style="normal" fill="#1a1a1a">25</text>
<text transform="translate(575.10 99.30) rotate(-90) scale(1 1.07)" font-size="9.45" text-anchor="middle" font-weight="normal" font-style="normal" fill="#1a1a1a">A-to-G conversion (%)</text>
<text transform="translate(638.30 181.20) scale(1 1.07)" font-size="9.45" text-anchor="middle" font-weight="normal" font-style="normal" fill="#1a1a1a">Volume of VLPs (μl)</text>
<line x1="611" y1="151.3" x2="626" y2="151.3" stroke="#111" stroke-width="2.6"/>
<line x1="639.9" y1="45.0" x2="639.9" y2="47.3" stroke="#111" stroke-width="1.2"/>
<line x1="639.9" y1="127.1" x2="639.9" y2="147.1" stroke="#111" stroke-width="1.2"/>
<line x1="635.6" y1="45.0" x2="644.1999999999999" y2="45.0" stroke="#111" stroke-width="1.2"/>
<line x1="635.6" y1="147.1" x2="644.1999999999999" y2="147.1" stroke="#111" stroke-width="1.2"/>
<rect x="633.1999999999999" y="47.3" width="13.4" height="79.8" fill="#08bb73" stroke="#111" stroke-width="1.2"/>
<line x1="633.1999999999999" y1="96.5" x2="646.6" y2="96.5" stroke="#111" stroke-width="1.2"/>
<circle cx="637.60" cy="45.00" r="1.55" fill="#111" stroke="none" stroke-width="0"/>
<circle cx="639.90" cy="45.50" r="1.55" fill="#111" stroke="none" stroke-width="0"/>
<circle cx="642.20" cy="45.00" r="1.55" fill="#111" stroke="none" stroke-width="0"/>
<circle cx="639.90" cy="79.10" r="1.55" fill="#111" stroke="none" stroke-width="0"/>
<circle cx="639.90" cy="96.50" r="1.55" fill="#111" stroke="none" stroke-width="0"/>
<circle cx="639.90" cy="107.70" r="1.55" fill="#111" stroke="none" stroke-width="0"/>
<circle cx="639.90" cy="126.80" r="1.55" fill="#111" stroke="none" stroke-width="0"/>
<circle cx="639.90" cy="129.00" r="1.55" fill="#111" stroke="none" stroke-width="0"/>
<circle cx="639.90" cy="147.10" r="1.55" fill="#111" stroke="none" stroke-width="0"/>
<line x1="661.6" y1="45.0" x2="661.6" y2="46.3" stroke="#111" stroke-width="1.2"/>
<line x1="661.6" y1="124.8" x2="661.6" y2="146.3" stroke="#111" stroke-width="1.2"/>
<line x1="657.3000000000001" y1="45.0" x2="665.9" y2="45.0" stroke="#111" stroke-width="1.2"/>
<line x1="657.3000000000001" y1="146.3" x2="665.9" y2="146.3" stroke="#111" stroke-width="1.2"/>
<rect x="654.95" y="46.3" width="13.3" height="78.5" fill="#08bb73" stroke="#111" stroke-width="1.2"/>
<line x1="654.95" y1="98.3" x2="668.25" y2="98.3" stroke="#111" stroke-width="1.2"/>
<circle cx="657.20" cy="45.50" r="1.55" fill="#111" stroke="none" stroke-width="0"/>
<circle cx="661.60" cy="45.00" r="1.55" fill="#111" stroke="none" stroke-width="0"/>
<circle cx="666.00" cy="45.50" r="1.55" fill="#111" stroke="none" stroke-width="0"/>
<circle cx="661.60" cy="71.90" r="1.55" fill="#111" stroke="none" stroke-width="0"/>
<circle cx="661.60" cy="98.60" r="1.55" fill="#111" stroke="none" stroke-width="0"/>
<circle cx="661.60" cy="103.90" r="1.55" fill="#111" stroke="none" stroke-width="0"/>
<circle cx="661.60" cy="124.00" r="1.55" fill="#111" stroke="none" stroke-width="0"/>
<circle cx="661.60" cy="126.50" r="1.55" fill="#111" stroke="none" stroke-width="0"/>
<circle cx="661.60" cy="146.30" r="1.55" fill="#111" stroke="none" stroke-width="0"/>
<line x1="307.0" y1="250.3" x2="307.0" y2="360.3" stroke="#111" stroke-width="1.2"/>
<line x1="302.4" y1="360.3" x2="472.5" y2="360.3" stroke="#111" stroke-width="1.2"/>
<line x1="302.4" y1="360.3" x2="307.0" y2="360.3" stroke="#111" stroke-width="1.2"/>
<text transform="translate(300.50 363.82) scale(1 1.07)" font-size="9.45" text-anchor="end" font-weight="normal" font-style="normal" fill="#1a1a1a">0</text>
<line x1="302.4" y1="323.6333333333333" x2="307.0" y2="323.6333333333333" stroke="#111" stroke-width="1.2"/>
<text transform="translate(300.50 327.15) scale(1 1.07)" font-size="9.45" text-anchor="end" font-weight="normal" font-style="normal" fill="#1a1a1a">20</text>
<line x1="302.4" y1="286.9666666666667" x2="307.0" y2="286.9666666666667" stroke="#111" stroke-width="1.2"/>
<text transform="translate(300.50 290.49) scale(1 1.07)" font-size="9.45" text-anchor="end" font-weight="normal" font-style="normal" fill="#1a1a1a">40</text>
<line x1="302.4" y1="250.3" x2="307.0" y2="250.3" stroke="#111" stroke-width="1.2"/>
<text transform="translate(300.50 253.82) scale(1 1.07)" font-size="9.45" text-anchor="end" font-weight="normal" font-style="normal" fill="#1a1a1a">60</text>
<line x1="327.6" y1="360.3" x2="327.6" y2="364.5" stroke="#111" stroke-width="1.2"/>
<text transform="translate(326.30 376.50) scale(1 1.07)" font-size="9.45" text-anchor="middle" font-weight="normal" font-style="normal" fill="#1a1a1a">0</text>
<line x1="358.5" y1="360.3" x2="358.5" y2="364.5" stroke="#111" stroke-width="1.2"/>
<text transform="translate(357.80 376.50) scale(1 1.07)" font-size="9.45" text-anchor="middle" font-weight="normal" font-style="normal" fill="#1a1a1a">1</text>
<line x1="389.3" y1="360.3" x2="389.3" y2="364.5" stroke="#111" stroke-width="1.2"/>
<text transform="translate(389.30 376.50) scale(1 1.07)" font-size="9.45" text-anchor="middle" font-weight="normal" font-style="normal" fill="#1a1a1a">5</text>
<line x1="420.3" y1="360.3" x2="420.3" y2="364.5" stroke="#111" stroke-width="1.2"/>
<text transform="translate(420.30 376.50) scale(1 1.07)" font-size="9.45" text-anchor="middle" font-weight="normal" font-style="normal" fill="#1a1a1a">10</text>
<line x1="451.0" y1="360.3" x2="451.0" y2="364.5" stroke="#111" stroke-width="1.2"/>
<text transform="translate(451.00 376.50) scale(1 1.07)" font-size="9.45" text-anchor="middle" font-weight="normal" font-style="normal" fill="#1a1a1a">20</text>
<text transform="translate(384.80 388.60) scale(1 1.07)" font-size="9.45" text-anchor="middle" font-weight="normal" font-style="normal" fill="#1a1a1a">Time of treatment (h)</text>
<text transform="translate(389.20 237.50) scale(1 1.07)" font-size="10" text-anchor="middle" font-weight="normal" font-style="italic" fill="#1a1a1a">Tyr</text>
<text transform="translate(271.00 305.30) rotate(-90) scale(1 1.07)" font-size="9.45" text-anchor="middle" font-weight="normal" font-style="normal" fill="#1a1a1a">A-to-G conversion</text>
<text transform="translate(282.00 305.30) rotate(-90) scale(1 1.07)" font-size="9.45" text-anchor="middle" font-weight="normal" font-style="normal" fill="#1a1a1a">in morula &amp; blastocyst (%)</text>
<circle cx="320.00" cy="360.30" r="1.75" fill="#ff0000" stroke="none" stroke-width="0"/>
<circle cx="322.00" cy="360.30" r="1.75" fill="#ff0000" stroke="none" stroke-width="0"/>
<circle cx="324.00" cy="360.30" r="1.75" fill="#ff0000" stroke="none" stroke-width="0"/>
<circle cx="326.00" cy="360.30" r="1.75" fill="#ff0000" stroke="none" stroke-width="0"/>
<circle cx="328.00" cy="360.30" r="1.75" fill="#ff0000" stroke="none" stroke-width="0"/>
<circle cx="330.00" cy="360.30" r="1.75" fill="#ff0000" stroke="none" stroke-width="0"/>
<circle cx="332.00" cy="360.30" r="1.75" fill="#ff0000" stroke="none" stroke-width="0"/>
<circle cx="334.00" cy="360.30" r="1.75" fill="#ff0000" stroke="none" stroke-width="0"/>
<circle cx="336.00" cy="360.30" r="1.75" fill="#ff0000" stroke="none" stroke-width="0"/>
<circle cx="351.00" cy="360.30" r="1.75" fill="#ff0000" stroke="none" stroke-width="0"/>
<circle cx="352.94" cy="360.30" r="1.75" fill="#ff0000" stroke="none" stroke-width="0"/>
<circle cx="354.88" cy="360.30" r="1.75" fill="#ff0000" stroke="none" stroke-width="0"/>
<circle cx="356.81" cy="360.30" r="1.75" fill="#ff0000" stroke="none" stroke-width="0"/>
<circle cx="358.75" cy="360.30" r="1.75" fill="#ff0000" stroke="none" stroke-width="0"/>
<circle cx="360.69" cy="360.30" r="1.75" fill="#ff0000" stroke="none" stroke-width="0"/>
<circle cx="362.62" cy="360.30" r="1.75" fill="#ff0000" stroke="none" stroke-width="0"/>
<circle cx="364.56" cy="360.30" r="1.75" fill="#ff0000" stroke="none" stroke-width="0"/>
<circle cx="366.50" cy="360.30" r="1.75" fill="#ff0000" stroke="none" stroke-width="0"/>
<circle cx="381.50" cy="360.30" r="1.75" fill="#ff0000" stroke="none" stroke-width="0"/>
<circle cx="383.50" cy="360.30" r="1.75" fill="#ff0000" stroke="none" stroke-width="0"/>
<circle cx="385.50" cy="360.30" r="1.75" fill="#ff0000" stroke="none" stroke-width="0"/>
<circle cx="387.50" cy="360.30" r="1.75" fill="#ff0000" stroke="none" stroke-width="0"/>
<circle cx="389.50" cy="360.30" r="1.75" fill="#ff0000" stroke="none" stroke-width="0"/>
<circle cx="391.50" cy="360.30" r="1.75" fill="#ff0000" stroke="none" stroke-width="0"/>
<circle cx="393.50" cy="360.30" r="1.75" fill="#ff0000" stroke="none" stroke-width="0"/>
<circle cx="395.50" cy="360.30" r="1.75" fill="#ff0000" stroke="none" stroke-width="0"/>
<circle cx="397.50" cy="360.30" r="1.75" fill="#ff0000" stroke="none" stroke-width="0"/>
<circle cx="412.00" cy="360.30" r="1.75" fill="#ff0000" stroke="none" stroke-width="0"/>
<circle cx="413.83" cy="360.30" r="1.75" fill="#ff0000" stroke="none" stroke-width="0"/>
<circle cx="415.67" cy="360.30" r="1.75" fill="#ff0000" stroke="none" stroke-width="0"/>
<circle cx="417.50" cy="360.30" r="1.75" fill="#ff0000" stroke="none" stroke-width="0"/>
<circle cx="419.33" cy="360.30" r="1.75" fill="#ff0000" stroke="none" stroke-width="0"/>
<circle cx="421.17" cy="360.30" r="1.75" fill="#ff0000" stroke="none" stroke-width="0"/>
<circle cx="423.00" cy="360.30" r="1.75" fill="#ff0000" stroke="none" stroke-width="0"/>
<circle cx="424.83" cy="360.30" r="1.75" fill="#ff0000" stroke="none" stroke-width="0"/>
<circle cx="426.67" cy="360.30" r="1.75" fill="#ff0000" stroke="none" stroke-width="0"/>
<circle cx="428.50" cy="360.30" r="1.75" fill="#ff0000" stroke="none" stroke-width="0"/>
<circle cx="442.80" cy="360.30" r="1.75" fill="#ff0000" stroke="none" stroke-width="0"/>
<circle cx="444.66" cy="360.30" r="1.75" fill="#ff0000" stroke="none" stroke-width="0"/>
<circle cx="446.51" cy="360.30" r="1.75" fill="#ff0000" stroke="none" stroke-width="0"/>
<circle cx="448.37" cy="360.30" r="1.75" fill="#ff0000" stroke="none" stroke-width="0"/>
<circle cx="450.22" cy="360.30" r="1.75" fill="#ff0000" stroke="none" stroke-width="0"/>
<circle cx="452.08" cy="360.30" r="1.75" fill="#ff0000" stroke="none" stroke-width="0"/>
<circle cx="453.93" cy="360.30" r="1.75" fill="#ff0000" stroke="none" stroke-width="0"/>
<circle cx="455.79" cy="360.30" r="1.75" fill="#ff0000" stroke="none" stroke-width="0"/>
<circle cx="457.64" cy="360.30" r="1.75" fill="#ff0000" stroke="none" stroke-width="0"/>
<circle cx="459.50" cy="360.30" r="1.75" fill="#ff0000" stroke="none" stroke-width="0"/>
<circle cx="358.50" cy="346.30" r="1.75" fill="#ff0000" stroke="none" stroke-width="0"/>
<circle cx="358.50" cy="356.20" r="1.75" fill="#ff0000" stroke="none" stroke-width="0"/>
<circle cx="356.00" cy="359.10" r="1.75" fill="#ff0000" stroke="none" stroke-width="0"/>
<circle cx="389.30" cy="317.10" r="1.75" fill="#ff0000" stroke="none" stroke-width="0"/>
<circle cx="382.60" cy="339.70" r="1.75" fill="#ff0000" stroke="none" stroke-width="0"/>
<circle cx="389.30" cy="338.40" r="1.75" fill="#ff0000" stroke="none" stroke-width="0"/>
<circle cx="395.80" cy="339.70" r="1.75" fill="#ff0000" stroke="none" stroke-width="0"/>
<circle cx="389.30" cy="345.70" r="1.75" fill="#ff0000" stroke="none" stroke-width="0"/>
<circle cx="385.90" cy="352.60" r="1.75" fill="#ff0000" stroke="none" stroke-width="0"/>
<circle cx="392.80" cy="351.10" r="1.75" fill="#ff0000" stroke="none" stroke-width="0"/>
<circle cx="420.30" cy="337.80" r="1.75" fill="#ff0000" stroke="none" stroke-width="0"/>
<circle cx="416.80" cy="345.10" r="1.75" fill="#ff0000" stroke="none" stroke-width="0"/>
<circle cx="423.60" cy="344.30" r="1.75" fill="#ff0000" stroke="none" stroke-width="0"/>
<circle cx="420.30" cy="350.90" r="1.75" fill="#ff0000" stroke="none" stroke-width="0"/>
<circle cx="416.80" cy="356.30" r="1.75" fill="#ff0000" stroke="none" stroke-width="0"/>
<circle cx="423.60" cy="356.30" r="1.75" fill="#ff0000" stroke="none" stroke-width="0"/>
<circle cx="412.60" cy="357.70" r="1.75" fill="#ff0000" stroke="none" stroke-width="0"/>
<circle cx="451.00" cy="270.10" r="1.75" fill="#ff0000" stroke="none" stroke-width="0"/>
<circle cx="451.00" cy="301.20" r="1.75" fill="#ff0000" stroke="none" stroke-width="0"/>
<circle cx="451.00" cy="309.50" r="1.75" fill="#ff0000" stroke="none" stroke-width="0"/>
<circle cx="451.00" cy="325.50" r="1.75" fill="#ff0000" stroke="none" stroke-width="0"/>
<circle cx="447.60" cy="334.20" r="1.75" fill="#ff0000" stroke="none" stroke-width="0"/>
<circle cx="454.40" cy="333.40" r="1.75" fill="#ff0000" stroke="none" stroke-width="0"/>
<circle cx="451.00" cy="338.30" r="1.75" fill="#ff0000" stroke="none" stroke-width="0"/>
<circle cx="457.70" cy="340.40" r="1.75" fill="#ff0000" stroke="none" stroke-width="0"/>
<circle cx="447.60" cy="342.90" r="1.75" fill="#ff0000" stroke="none" stroke-width="0"/>
<circle cx="454.40" cy="342.30" r="1.75" fill="#ff0000" stroke="none" stroke-width="0"/>
<circle cx="442.50" cy="344.20" r="1.75" fill="#ff0000" stroke="none" stroke-width="0"/>
<circle cx="448.20" cy="346.10" r="1.75" fill="#ff0000" stroke="none" stroke-width="0"/>
<circle cx="454.00" cy="347.00" r="1.75" fill="#ff0000" stroke="none" stroke-width="0"/>
<circle cx="459.70" cy="347.30" r="1.75" fill="#ff0000" stroke="none" stroke-width="0"/>
<circle cx="444.50" cy="349.90" r="1.75" fill="#ff0000" stroke="none" stroke-width="0"/>
<circle cx="451.00" cy="351.40" r="1.75" fill="#ff0000" stroke="none" stroke-width="0"/>
<circle cx="457.70" cy="351.00" r="1.75" fill="#ff0000" stroke="none" stroke-width="0"/>
<circle cx="444.30" cy="353.20" r="1.75" fill="#ff0000" stroke="none" stroke-width="0"/>
<circle cx="444.30" cy="354.40" r="1.75" fill="#ff0000" stroke="none" stroke-width="0"/>
<circle cx="451.00" cy="357.00" r="1.75" fill="#ff0000" stroke="none" stroke-width="0"/>
<circle cx="457.70" cy="356.60" r="1.75" fill="#ff0000" stroke="none" stroke-width="0"/>
<circle cx="458.70" cy="357.50" r="1.75" fill="#ff0000" stroke="none" stroke-width="0"/>
<circle cx="442.90" cy="358.30" r="1.75" fill="#ff0000" stroke="none" stroke-width="0"/>
<line x1="518.6" y1="250.4" x2="518.6" y2="360.1" stroke="#111" stroke-width="1.2"/>
<line x1="514.0" y1="360.1" x2="685" y2="360.1" stroke="#111" stroke-width="1.2"/>
<line x1="514.0" y1="360.1" x2="518.6" y2="360.1" stroke="#111" stroke-width="1.2"/>
<text transform="translate(511.00 364.02) scale(1 1.07)" font-size="9.45" text-anchor="end" font-weight="normal" font-style="normal" fill="#1a1a1a">0</text>
<line x1="514.0" y1="338.16" x2="518.6" y2="338.16" stroke="#111" stroke-width="1.2"/>
<text transform="translate(511.00 342.08) scale(1 1.07)" font-size="9.45" text-anchor="end" font-weight="normal" font-style="normal" fill="#1a1a1a">20</text>
<line x1="514.0" y1="316.22" x2="518.6" y2="316.22" stroke="#111" stroke-width="1.2"/>
<text transform="translate(511.00 320.14) scale(1 1.07)" font-size="9.45" text-anchor="end" font-weight="normal" font-style="normal" fill="#1a1a1a">40</text>
<line x1="514.0" y1="294.28000000000003" x2="518.6" y2="294.28000000000003" stroke="#111" stroke-width="1.2"/>
<text transform="translate(511.00 298.20) scale(1 1.07)" font-size="9.45" text-anchor="end" font-weight="normal" font-style="normal" fill="#1a1a1a">60</text>
<line x1="514.0" y1="272.34000000000003" x2="518.6" y2="272.34000000000003" stroke="#111" stroke-width="1.2"/>
<text transform="translate(511.00 276.26) scale(1 1.07)" font-size="9.45" text-anchor="end" font-weight="normal" font-style="normal" fill="#1a1a1a">80</text>
<line x1="514.0" y1="250.4" x2="518.6" y2="250.4" stroke="#111" stroke-width="1.2"/>
<text transform="translate(511.00 254.32) scale(1 1.07)" font-size="9.45" text-anchor="end" font-weight="normal" font-style="normal" fill="#1a1a1a">100</text>
<line x1="539.6" y1="360.1" x2="539.6" y2="364.3" stroke="#111" stroke-width="1.2"/>
<text transform="translate(536.00 376.30) scale(1 1.07)" font-size="9.45" text-anchor="middle" font-weight="normal" font-style="normal" fill="#1a1a1a">0</text>
<line x1="570.5" y1="360.1" x2="570.5" y2="364.3" stroke="#111" stroke-width="1.2"/>
<text transform="translate(569.60 376.30) scale(1 1.07)" font-size="9.45" text-anchor="middle" font-weight="normal" font-style="normal" fill="#1a1a1a">1</text>
<line x1="601.4" y1="360.1" x2="601.4" y2="364.3" stroke="#111" stroke-width="1.2"/>
<text transform="translate(601.40 376.30) scale(1 1.07)" font-size="9.45" text-anchor="middle" font-weight="normal" font-style="normal" fill="#1a1a1a">5</text>
<line x1="632.5" y1="360.1" x2="632.5" y2="364.3" stroke="#111" stroke-width="1.2"/>
<text transform="translate(632.50 376.30) scale(1 1.07)" font-size="9.45" text-anchor="middle" font-weight="normal" font-style="normal" fill="#1a1a1a">10</text>
<line x1="663.5" y1="360.1" x2="663.5" y2="364.3" stroke="#111" stroke-width="1.2"/>
<text transform="translate(663.50 376.30) scale(1 1.07)" font-size="9.45" text-anchor="middle" font-weight="normal" font-style="normal" fill="#1a1a1a">20</text>
<text transform="translate(601.70 388.80) scale(1 1.07)" font-size="9.45" text-anchor="middle" font-weight="normal" font-style="normal" fill="#1a1a1a">Time of treatment (h)</text>
<text transform="translate(599.00 236.20) scale(1 1.07)" font-size="9.4" text-anchor="middle" font-weight="normal" font-style="italic" fill="#1a1a1a">Plin1</text>
<text transform="translate(480.50 303.30) rotate(-90) scale(1 1.07)" font-size="9.45" text-anchor="middle" font-weight="normal" font-style="normal" fill="#1a1a1a">A-to-G conversion</text>
<text transform="translate(492.30 305.00) rotate(-90) scale(1 1.07)" font-size="9.45" text-anchor="middle" font-weight="normal" font-style="normal" fill="#1a1a1a">in morula &amp; blastocyst (%)</text>
<circle cx="531.00" cy="360.10" r="1.75" fill="#0000ff" stroke="none" stroke-width="0"/>
<circle cx="536.90" cy="360.10" r="1.75" fill="#0000ff" stroke="none" stroke-width="0"/>
<circle cx="542.60" cy="360.10" r="1.75" fill="#0000ff" stroke="none" stroke-width="0"/>
<circle cx="548.40" cy="360.10" r="1.75" fill="#0000ff" stroke="none" stroke-width="0"/>
<circle cx="562.50" cy="360.10" r="1.75" fill="#0000ff" stroke="none" stroke-width="0"/>
<circle cx="564.39" cy="360.10" r="1.75" fill="#0000ff" stroke="none" stroke-width="0"/>
<circle cx="566.28" cy="360.10" r="1.75" fill="#0000ff" stroke="none" stroke-width="0"/>
<circle cx="568.17" cy="360.10" r="1.75" fill="#0000ff" stroke="none" stroke-width="0"/>
<circle cx="570.06" cy="360.10" r="1.75" fill="#0000ff" stroke="none" stroke-width="0"/>
<circle cx="571.94" cy="360.10" r="1.75" fill="#0000ff" stroke="none" stroke-width="0"/>
<circle cx="573.83" cy="360.10" r="1.75" fill="#0000ff" stroke="none" stroke-width="0"/>
<circle cx="575.72" cy="360.10" r="1.75" fill="#0000ff" stroke="none" stroke-width="0"/>
<circle cx="577.61" cy="360.10" r="1.75" fill="#0000ff" stroke="none" stroke-width="0"/>
<circle cx="579.50" cy="360.10" r="1.75" fill="#0000ff" stroke="none" stroke-width="0"/>
<circle cx="567.30" cy="337.70" r="1.75" fill="#0000ff" stroke="none" stroke-width="0"/>
<circle cx="573.90" cy="337.70" r="1.75" fill="#0000ff" stroke="none" stroke-width="0"/>
<circle cx="593.00" cy="360.10" r="1.75" fill="#0000ff" stroke="none" stroke-width="0"/>
<circle cx="594.94" cy="360.10" r="1.75" fill="#0000ff" stroke="none" stroke-width="0"/>
<circle cx="596.89" cy="360.10" r="1.75" fill="#0000ff" stroke="none" stroke-width="0"/>
<circle cx="598.83" cy="360.10" r="1.75" fill="#0000ff" stroke="none" stroke-width="0"/>
<circle cx="600.78" cy="360.10" r="1.75" fill="#0000ff" stroke="none" stroke-width="0"/>
<circle cx="602.72" cy="360.10" r="1.75" fill="#0000ff" stroke="none" stroke-width="0"/>
<circle cx="604.67" cy="360.10" r="1.75" fill="#0000ff" stroke="none" stroke-width="0"/>
<circle cx="606.61" cy="360.10" r="1.75" fill="#0000ff" stroke="none" stroke-width="0"/>
<circle cx="608.56" cy="360.10" r="1.75" fill="#0000ff" stroke="none" stroke-width="0"/>
<circle cx="610.50" cy="360.10" r="1.75" fill="#0000ff" stroke="none" stroke-width="0"/>
<circle cx="601.40" cy="299.40" r="1.75" fill="#0000ff" stroke="none" stroke-width="0"/>
<circle cx="601.40" cy="334.90" r="1.75" fill="#0000ff" stroke="none" stroke-width="0"/>
<circle cx="601.40" cy="342.50" r="1.75" fill="#0000ff" stroke="none" stroke-width="0"/>
<circle cx="594.70" cy="345.80" r="1.75" fill="#0000ff" stroke="none" stroke-width="0"/>
<circle cx="608.20" cy="345.50" r="1.75" fill="#0000ff" stroke="none" stroke-width="0"/>
<circle cx="601.40" cy="352.50" r="1.75" fill="#0000ff" stroke="none" stroke-width="0"/>
<circle cx="608.20" cy="351.70" r="1.75" fill="#0000ff" stroke="none" stroke-width="0"/>
<circle cx="593.20" cy="353.50" r="1.75" fill="#0000ff" stroke="none" stroke-width="0"/>
<circle cx="598.80" cy="355.00" r="1.75" fill="#0000ff" stroke="none" stroke-width="0"/>
<circle cx="604.40" cy="355.80" r="1.75" fill="#0000ff" stroke="none" stroke-width="0"/>
<circle cx="610.40" cy="356.70" r="1.75" fill="#0000ff" stroke="none" stroke-width="0"/>
<circle cx="594.90" cy="351.90" r="1.75" fill="#0000ff" stroke="none" stroke-width="0"/>
<circle cx="592.70" cy="353.90" r="1.75" fill="#0000ff" stroke="none" stroke-width="0"/>
<circle cx="593.30" cy="358.10" r="1.75" fill="#0000ff" stroke="none" stroke-width="0"/>
<circle cx="604.50" cy="357.50" r="1.75" fill="#0000ff" stroke="none" stroke-width="0"/>
<circle cx="623.50" cy="360.10" r="1.75" fill="#0000ff" stroke="none" stroke-width="0"/>
<circle cx="625.50" cy="360.10" r="1.75" fill="#0000ff" stroke="none" stroke-width="0"/>
<circle cx="627.50" cy="360.10" r="1.75" fill="#0000ff" stroke="none" stroke-width="0"/>
<circle cx="629.50" cy="360.10" r="1.75" fill="#0000ff" stroke="none" stroke-width="0"/>
<circle cx="631.50" cy="360.10" r="1.75" fill="#0000ff" stroke="none" stroke-width="0"/>
<circle cx="633.50" cy="360.10" r="1.75" fill="#0000ff" stroke="none" stroke-width="0"/>
<circle cx="635.50" cy="360.10" r="1.75" fill="#0000ff" stroke="none" stroke-width="0"/>
<circle cx="637.50" cy="360.10" r="1.75" fill="#0000ff" stroke="none" stroke-width="0"/>
<circle cx="639.50" cy="360.10" r="1.75" fill="#0000ff" stroke="none" stroke-width="0"/>
<circle cx="641.50" cy="360.10" r="1.75" fill="#0000ff" stroke="none" stroke-width="0"/>
<circle cx="632.50" cy="322.20" r="1.75" fill="#0000ff" stroke="none" stroke-width="0"/>
<circle cx="632.50" cy="341.70" r="1.75" fill="#0000ff" stroke="none" stroke-width="0"/>
<circle cx="626.10" cy="346.50" r="1.75" fill="#0000ff" stroke="none" stroke-width="0"/>
<circle cx="639.30" cy="348.80" r="1.75" fill="#0000ff" stroke="none" stroke-width="0"/>
<circle cx="629.40" cy="351.40" r="1.75" fill="#0000ff" stroke="none" stroke-width="0"/>
<circle cx="635.80" cy="351.70" r="1.75" fill="#0000ff" stroke="none" stroke-width="0"/>
<circle cx="632.50" cy="354.00" r="1.75" fill="#0000ff" stroke="none" stroke-width="0"/>
<circle cx="628.30" cy="354.40" r="1.75" fill="#0000ff" stroke="none" stroke-width="0"/>
<circle cx="624.20" cy="355.50" r="1.75" fill="#0000ff" stroke="none" stroke-width="0"/>
<circle cx="641.50" cy="355.90" r="1.75" fill="#0000ff" stroke="none" stroke-width="0"/>
<circle cx="637.30" cy="357.00" r="1.75" fill="#0000ff" stroke="none" stroke-width="0"/>
<circle cx="655.00" cy="360.10" r="1.75" fill="#0000ff" stroke="none" stroke-width="0"/>
<circle cx="656.94" cy="360.10" r="1.75" fill="#0000ff" stroke="none" stroke-width="0"/>
<circle cx="658.89" cy="360.10" r="1.75" fill="#0000ff" stroke="none" stroke-width="0"/>
<circle cx="660.83" cy="360.10" r="1.75" fill="#0000ff" stroke="none" stroke-width="0"/>
<circle cx="662.78" cy="360.10" r="1.75" fill="#0000ff" stroke="none" stroke-width="0"/>
<circle cx="664.72" cy="360.10" r="1.75" fill="#0000ff" stroke="none" stroke-width="0"/>
<circle cx="666.67" cy="360.10" r="1.75" fill="#0000ff" stroke="none" stroke-width="0"/>
<circle cx="668.61" cy="360.10" r="1.75" fill="#0000ff" stroke="none" stroke-width="0"/>
<circle cx="670.56" cy="360.10" r="1.75" fill="#0000ff" stroke="none" stroke-width="0"/>
<circle cx="672.50" cy="360.10" r="1.75" fill="#0000ff" stroke="none" stroke-width="0"/>
<circle cx="663.50" cy="276.20" r="1.75" fill="#0000ff" stroke="none" stroke-width="0"/>
<circle cx="663.50" cy="297.60" r="1.75" fill="#0000ff" stroke="none" stroke-width="0"/>
<circle cx="656.70" cy="300.20" r="1.75" fill="#0000ff" stroke="none" stroke-width="0"/>
<circle cx="670.20" cy="298.20" r="1.75" fill="#0000ff" stroke="none" stroke-width="0"/>
<circle cx="660.00" cy="305.40" r="1.75" fill="#0000ff" stroke="none" stroke-width="0"/>
<circle cx="666.80" cy="303.60" r="1.75" fill="#0000ff" stroke="none" stroke-width="0"/>
<circle cx="660.00" cy="312.10" r="1.75" fill="#0000ff" stroke="none" stroke-width="0"/>
<circle cx="666.80" cy="311.40" r="1.75" fill="#0000ff" stroke="none" stroke-width="0"/>
<circle cx="660.00" cy="321.90" r="1.75" fill="#0000ff" stroke="none" stroke-width="0"/>
<circle cx="666.80" cy="320.70" r="1.75" fill="#0000ff" stroke="none" stroke-width="0"/>
<circle cx="654.80" cy="328.60" r="1.75" fill="#0000ff" stroke="none" stroke-width="0"/>
<circle cx="660.50" cy="326.60" r="1.75" fill="#0000ff" stroke="none" stroke-width="0"/>
<circle cx="666.50" cy="328.30" r="1.75" fill="#0000ff" stroke="none" stroke-width="0"/>
<circle cx="672.10" cy="327.50" r="1.75" fill="#0000ff" stroke="none" stroke-width="0"/>
<circle cx="663.50" cy="332.80" r="1.75" fill="#0000ff" stroke="none" stroke-width="0"/>
<circle cx="663.50" cy="337.50" r="1.75" fill="#0000ff" stroke="none" stroke-width="0"/>
<circle cx="663.50" cy="341.00" r="1.75" fill="#0000ff" stroke="none" stroke-width="0"/>
<circle cx="670.20" cy="339.80" r="1.75" fill="#0000ff" stroke="none" stroke-width="0"/>
<circle cx="666.80" cy="344.30" r="1.75" fill="#0000ff" stroke="none" stroke-width="0"/>
<circle cx="670.20" cy="342.80" r="1.75" fill="#0000ff" stroke="none" stroke-width="0"/>
<circle cx="654.80" cy="347.60" r="1.75" fill="#0000ff" stroke="none" stroke-width="0"/>
<circle cx="660.00" cy="346.50" r="1.75" fill="#0000ff" stroke="none" stroke-width="0"/>
<circle cx="666.80" cy="347.60" r="1.75" fill="#0000ff" stroke="none" stroke-width="0"/>
<circle cx="672.10" cy="347.30" r="1.75" fill="#0000ff" stroke="none" stroke-width="0"/>
<circle cx="654.80" cy="351.00" r="1.75" fill="#0000ff" stroke="none" stroke-width="0"/>
<circle cx="660.00" cy="350.00" r="1.75" fill="#0000ff" stroke="none" stroke-width="0"/>
<circle cx="666.80" cy="351.70" r="1.75" fill="#0000ff" stroke="none" stroke-width="0"/>
<circle cx="672.10" cy="353.20" r="1.75" fill="#0000ff" stroke="none" stroke-width="0"/>
<circle cx="654.80" cy="354.70" r="1.75" fill="#0000ff" stroke="none" stroke-width="0"/>
<circle cx="660.00" cy="354.00" r="1.75" fill="#0000ff" stroke="none" stroke-width="0"/>
<circle cx="672.10" cy="354.70" r="1.75" fill="#0000ff" stroke="none" stroke-width="0"/>
<circle cx="666.80" cy="357.00" r="1.75" fill="#0000ff" stroke="none" stroke-width="0"/>
<line x1="47.3" y1="444.0" x2="47.3" y2="551.9" stroke="#111" stroke-width="1.2"/>
<line x1="42.699999999999996" y1="551.9" x2="171.5" y2="551.9" stroke="#111" stroke-width="1.2"/>
<line x1="42.699999999999996" y1="551.9" x2="47.3" y2="551.9" stroke="#111" stroke-width="1.2"/>
<text transform="translate(38.20 556.02) scale(1 1.07)" font-size="9.45" text-anchor="end" font-weight="normal" font-style="normal" fill="#1a1a1a">0</text>
<line x1="42.699999999999996" y1="530.3199999999999" x2="47.3" y2="530.3199999999999" stroke="#111" stroke-width="1.2"/>
<text transform="translate(38.20 534.44) scale(1 1.07)" font-size="9.45" text-anchor="end" font-weight="normal" font-style="normal" fill="#1a1a1a">20</text>
<line x1="42.699999999999996" y1="508.74" x2="47.3" y2="508.74" stroke="#111" stroke-width="1.2"/>
<text transform="translate(38.20 512.86) scale(1 1.07)" font-size="9.45" text-anchor="end" font-weight="normal" font-style="normal" fill="#1a1a1a">40</text>
<line x1="42.699999999999996" y1="487.15999999999997" x2="47.3" y2="487.15999999999997" stroke="#111" stroke-width="1.2"/>
<text transform="translate(38.20 491.28) scale(1 1.07)" font-size="9.45" text-anchor="end" font-weight="normal" font-style="normal" fill="#1a1a1a">60</text>
<line x1="42.699999999999996" y1="465.58" x2="47.3" y2="465.58" stroke="#111" stroke-width="1.2"/>
<text transform="translate(38.20 469.70) scale(1 1.07)" font-size="9.45" text-anchor="end" font-weight="normal" font-style="normal" fill="#1a1a1a">80</text>
<line x1="42.699999999999996" y1="444.0" x2="47.3" y2="444.0" stroke="#111" stroke-width="1.2"/>
<text transform="translate(38.20 448.12) scale(1 1.07)" font-size="9.45" text-anchor="end" font-weight="normal" font-style="normal" fill="#1a1a1a">100</text>
<line x1="71.6" y1="551.9" x2="71.6" y2="556" stroke="#111" stroke-width="1.2"/>
<line x1="109.3" y1="551.9" x2="109.3" y2="556" stroke="#111" stroke-width="1.2"/>
<line x1="145.9" y1="551.9" x2="145.9" y2="556" stroke="#111" stroke-width="1.2"/>
<text transform="translate(71.60 570.20) scale(1 1.07)" font-size="9.65" text-anchor="middle" font-weight="normal" font-style="normal" fill="#1a1a1a">Control</text>
<text transform="translate(109.20 570.20) scale(1 1.07)" font-size="9.45" text-anchor="middle" font-weight="normal" font-style="normal" fill="#1a1a1a">10%</text>
<text transform="translate(146.70 570.20) scale(1 1.07)" font-size="9.45" text-anchor="middle" font-weight="normal" font-style="normal" fill="#1a1a1a">20%</text>
<text transform="translate(108.90 434.00) scale(1 1.07)" font-size="9.45" text-anchor="middle" font-weight="normal" font-style="italic" fill="#1a1a1a">Plin1</text>
<text transform="translate(9.40 498.70) rotate(-90) scale(1 1.07)" font-size="9.45" text-anchor="middle" font-weight="normal" font-style="normal" fill="#1a1a1a">A-to-G conversion</text>
<text transform="translate(19.80 498.70) rotate(-90) scale(1 1.07)" font-size="9.45" text-anchor="middle" font-weight="normal" font-style="normal" fill="#1a1a1a">in morula &amp; blastocyst (%)</text>
<circle cx="62.50" cy="551.90" r="1.75" fill="#0000ff" stroke="none" stroke-width="0"/>
<circle cx="64.32" cy="551.90" r="1.75" fill="#0000ff" stroke="none" stroke-width="0"/>
<circle cx="66.14" cy="551.90" r="1.75" fill="#0000ff" stroke="none" stroke-width="0"/>
<circle cx="67.95" cy="551.90" r="1.75" fill="#0000ff" stroke="none" stroke-width="0"/>
<circle cx="69.77" cy="551.90" r="1.75" fill="#0000ff" stroke="none" stroke-width="0"/>
<circle cx="71.59" cy="551.90" r="1.75" fill="#0000ff" stroke="none" stroke-width="0"/>
<circle cx="73.41" cy="551.90" r="1.75" fill="#0000ff" stroke="none" stroke-width="0"/>
<circle cx="75.23" cy="551.90" r="1.75" fill="#0000ff" stroke="none" stroke-width="0"/>
<circle cx="77.05" cy="551.90" r="1.75" fill="#0000ff" stroke="none" stroke-width="0"/>
<circle cx="78.86" cy="551.90" r="1.75" fill="#0000ff" stroke="none" stroke-width="0"/>
<circle cx="80.68" cy="551.90" r="1.75" fill="#0000ff" stroke="none" stroke-width="0"/>
<circle cx="82.50" cy="551.90" r="1.75" fill="#0000ff" stroke="none" stroke-width="0"/>
<circle cx="98.50" cy="551.90" r="1.75" fill="#0000ff" stroke="none" stroke-width="0"/>
<circle cx="100.45" cy="551.90" r="1.75" fill="#0000ff" stroke="none" stroke-width="0"/>
<circle cx="102.41" cy="551.90" r="1.75" fill="#0000ff" stroke="none" stroke-width="0"/>
<circle cx="104.36" cy="551.90" r="1.75" fill="#0000ff" stroke="none" stroke-width="0"/>
<circle cx="106.32" cy="551.90" r="1.75" fill="#0000ff" stroke="none" stroke-width="0"/>
<circle cx="108.27" cy="551.90" r="1.75" fill="#0000ff" stroke="none" stroke-width="0"/>
<circle cx="110.23" cy="551.90" r="1.75" fill="#0000ff" stroke="none" stroke-width="0"/>
<circle cx="112.18" cy="551.90" r="1.75" fill="#0000ff" stroke="none" stroke-width="0"/>
<circle cx="114.14" cy="551.90" r="1.75" fill="#0000ff" stroke="none" stroke-width="0"/>
<circle cx="116.09" cy="551.90" r="1.75" fill="#0000ff" stroke="none" stroke-width="0"/>
<circle cx="118.05" cy="551.90" r="1.75" fill="#0000ff" stroke="none" stroke-width="0"/>
<circle cx="120.00" cy="551.90" r="1.75" fill="#0000ff" stroke="none" stroke-width="0"/>
<circle cx="109.30" cy="477.80" r="1.75" fill="#0000ff" stroke="none" stroke-width="0"/>
<circle cx="109.30" cy="500.20" r="1.75" fill="#0000ff" stroke="none" stroke-width="0"/>
<circle cx="109.30" cy="511.70" r="1.75" fill="#0000ff" stroke="none" stroke-width="0"/>
<circle cx="109.30" cy="538.10" r="1.75" fill="#0000ff" stroke="none" stroke-width="0"/>
<circle cx="101.30" cy="541.40" r="1.75" fill="#0000ff" stroke="none" stroke-width="0"/>
<circle cx="116.60" cy="541.40" r="1.75" fill="#0000ff" stroke="none" stroke-width="0"/>
<circle cx="105.10" cy="544.20" r="1.75" fill="#0000ff" stroke="none" stroke-width="0"/>
<circle cx="107.40" cy="543.70" r="1.75" fill="#0000ff" stroke="none" stroke-width="0"/>
<circle cx="113.70" cy="544.20" r="1.75" fill="#0000ff" stroke="none" stroke-width="0"/>
<circle cx="101.30" cy="550.50" r="1.75" fill="#0000ff" stroke="none" stroke-width="0"/>
<circle cx="142.40" cy="470.00" r="1.75" fill="#0000ff" stroke="none" stroke-width="0"/>
<circle cx="149.50" cy="467.10" r="1.75" fill="#0000ff" stroke="none" stroke-width="0"/>
<circle cx="138.60" cy="489.10" r="1.75" fill="#0000ff" stroke="none" stroke-width="0"/>
<circle cx="145.90" cy="489.30" r="1.75" fill="#0000ff" stroke="none" stroke-width="0"/>
<circle cx="153.30" cy="489.10" r="1.75" fill="#0000ff" stroke="none" stroke-width="0"/>
<circle cx="135.20" cy="507.90" r="1.75" fill="#0000ff" stroke="none" stroke-width="0"/>
<circle cx="135.20" cy="512.10" r="1.75" fill="#0000ff" stroke="none" stroke-width="0"/>
<circle cx="142.40" cy="510.40" r="1.75" fill="#0000ff" stroke="none" stroke-width="0"/>
<circle cx="149.50" cy="510.40" r="1.75" fill="#0000ff" stroke="none" stroke-width="0"/>
<circle cx="145.90" cy="520.30" r="1.75" fill="#0000ff" stroke="none" stroke-width="0"/>
<circle cx="135.20" cy="528.00" r="1.75" fill="#0000ff" stroke="none" stroke-width="0"/>
<circle cx="142.40" cy="529.30" r="1.75" fill="#0000ff" stroke="none" stroke-width="0"/>
<circle cx="149.50" cy="527.00" r="1.75" fill="#0000ff" stroke="none" stroke-width="0"/>
<circle cx="149.50" cy="530.80" r="1.75" fill="#0000ff" stroke="none" stroke-width="0"/>
<circle cx="156.80" cy="526.10" r="1.75" fill="#0000ff" stroke="none" stroke-width="0"/>
<circle cx="142.40" cy="538.10" r="1.75" fill="#0000ff" stroke="none" stroke-width="0"/>
<circle cx="149.50" cy="538.10" r="1.75" fill="#0000ff" stroke="none" stroke-width="0"/>
<circle cx="142.40" cy="543.30" r="1.75" fill="#0000ff" stroke="none" stroke-width="0"/>
<circle cx="149.50" cy="545.20" r="1.75" fill="#0000ff" stroke="none" stroke-width="0"/>
<circle cx="145.90" cy="551.50" r="1.75" fill="#0000ff" stroke="none" stroke-width="0"/>
<line x1="218.2" y1="443.3" x2="218.2" y2="551.6" stroke="#111" stroke-width="1.2"/>
<line x1="213.6" y1="551.6" x2="345" y2="551.6" stroke="#111" stroke-width="1.2"/>
<line x1="213.6" y1="551.6" x2="218.2" y2="551.6" stroke="#111" stroke-width="1.2"/>
<text transform="translate(211.20 555.62) scale(1 1.07)" font-size="9.45" text-anchor="end" font-weight="normal" font-style="normal" fill="#1a1a1a">0</text>
<line x1="213.6" y1="515.5" x2="218.2" y2="515.5" stroke="#111" stroke-width="1.2"/>
<text transform="translate(211.20 519.52) scale(1 1.07)" font-size="9.45" text-anchor="end" font-weight="normal" font-style="normal" fill="#1a1a1a">20</text>
<line x1="213.6" y1="479.40000000000003" x2="218.2" y2="479.40000000000003" stroke="#111" stroke-width="1.2"/>
<text transform="translate(211.20 483.42) scale(1 1.07)" font-size="9.45" text-anchor="end" font-weight="normal" font-style="normal" fill="#1a1a1a">40</text>
<line x1="213.6" y1="443.3" x2="218.2" y2="443.3" stroke="#111" stroke-width="1.2"/>
<text transform="translate(211.20 447.32) scale(1 1.07)" font-size="9.45" text-anchor="end" font-weight="normal" font-style="normal" fill="#1a1a1a">60</text>
<line x1="243.5" y1="551.5" x2="243.5" y2="555.6" stroke="#111" stroke-width="1.2"/>
<line x1="280.8" y1="551.5" x2="280.8" y2="555.6" stroke="#111" stroke-width="1.2"/>
<line x1="318.8" y1="551.5" x2="318.8" y2="555.6" stroke="#111" stroke-width="1.2"/>
<text transform="translate(241.60 570.20) scale(1 1.07)" font-size="9.65" text-anchor="middle" font-weight="normal" font-style="normal" fill="#1a1a1a">Control</text>
<text transform="translate(281.40 570.20) scale(1 1.07)" font-size="9.45" text-anchor="middle" font-weight="normal" font-style="normal" fill="#1a1a1a">10%</text>
<text transform="translate(318.60 570.20) scale(1 1.07)" font-size="9.45" text-anchor="middle" font-weight="normal" font-style="normal" fill="#1a1a1a">20%</text>
<text transform="translate(281.50 434.00) scale(1 1.07)" font-size="9.45" text-anchor="middle" font-weight="normal" font-style="italic" fill="#1a1a1a">Dnmt1</text>
<text transform="translate(185.60 498.80) rotate(-90) scale(1 1.07)" font-size="9.45" text-anchor="middle" font-weight="normal" font-style="normal" fill="#1a1a1a">A-to-G conversion</text>
<text transform="translate(196.80 498.80) rotate(-90) scale(1 1.07)" font-size="9.45" text-anchor="middle" font-weight="normal" font-style="normal" fill="#1a1a1a">in morula &amp; blastocyst (%)</text>
<circle cx="232.60" cy="551.50" r="1.75" fill="#a100e6" stroke="none" stroke-width="0"/>
<circle cx="237.80" cy="551.50" r="1.75" fill="#a100e6" stroke="none" stroke-width="0"/>
<circle cx="243.50" cy="551.50" r="1.75" fill="#a100e6" stroke="none" stroke-width="0"/>
<circle cx="248.90" cy="551.50" r="1.75" fill="#a100e6" stroke="none" stroke-width="0"/>
<circle cx="254.40" cy="551.50" r="1.75" fill="#a100e6" stroke="none" stroke-width="0"/>
<circle cx="270.00" cy="551.50" r="1.75" fill="#a100e6" stroke="none" stroke-width="0"/>
<circle cx="271.83" cy="551.50" r="1.75" fill="#a100e6" stroke="none" stroke-width="0"/>
<circle cx="273.67" cy="551.50" r="1.75" fill="#a100e6" stroke="none" stroke-width="0"/>
<circle cx="275.50" cy="551.50" r="1.75" fill="#a100e6" stroke="none" stroke-width="0"/>
<circle cx="277.33" cy="551.50" r="1.75" fill="#a100e6" stroke="none" stroke-width="0"/>
<circle cx="279.17" cy="551.50" r="1.75" fill="#a100e6" stroke="none" stroke-width="0"/>
<circle cx="281.00" cy="551.50" r="1.75" fill="#a100e6" stroke="none" stroke-width="0"/>
<circle cx="282.83" cy="551.50" r="1.75" fill="#a100e6" stroke="none" stroke-width="0"/>
<circle cx="284.67" cy="551.50" r="1.75" fill="#a100e6" stroke="none" stroke-width="0"/>
<circle cx="286.50" cy="551.50" r="1.75" fill="#a100e6" stroke="none" stroke-width="0"/>
<circle cx="288.33" cy="551.50" r="1.75" fill="#a100e6" stroke="none" stroke-width="0"/>
<circle cx="290.17" cy="551.50" r="1.75" fill="#a100e6" stroke="none" stroke-width="0"/>
<circle cx="292.00" cy="551.50" r="1.75" fill="#a100e6" stroke="none" stroke-width="0"/>
<circle cx="279.90" cy="485.50" r="1.75" fill="#a100e6" stroke="none" stroke-width="0"/>
<circle cx="281.80" cy="485.50" r="1.75" fill="#a100e6" stroke="none" stroke-width="0"/>
<circle cx="280.80" cy="525.70" r="1.75" fill="#a100e6" stroke="none" stroke-width="0"/>
<circle cx="281.20" cy="527.00" r="1.75" fill="#a100e6" stroke="none" stroke-width="0"/>
<circle cx="280.80" cy="536.20" r="1.75" fill="#a100e6" stroke="none" stroke-width="0"/>
<circle cx="279.30" cy="542.70" r="1.75" fill="#a100e6" stroke="none" stroke-width="0"/>
<circle cx="282.40" cy="542.30" r="1.75" fill="#a100e6" stroke="none" stroke-width="0"/>
<circle cx="280.80" cy="546.20" r="1.75" fill="#a100e6" stroke="none" stroke-width="0"/>
<circle cx="280.80" cy="548.50" r="1.75" fill="#a100e6" stroke="none" stroke-width="0"/>
<circle cx="292.30" cy="549.60" r="1.75" fill="#a100e6" stroke="none" stroke-width="0"/>
<circle cx="276.50" cy="550.30" r="1.75" fill="#a100e6" stroke="none" stroke-width="0"/>
<circle cx="285.50" cy="550.30" r="1.75" fill="#a100e6" stroke="none" stroke-width="0"/>
<circle cx="308.00" cy="551.50" r="1.75" fill="#a100e6" stroke="none" stroke-width="0"/>
<circle cx="309.83" cy="551.50" r="1.75" fill="#a100e6" stroke="none" stroke-width="0"/>
<circle cx="311.67" cy="551.50" r="1.75" fill="#a100e6" stroke="none" stroke-width="0"/>
<circle cx="313.50" cy="551.50" r="1.75" fill="#a100e6" stroke="none" stroke-width="0"/>
<circle cx="315.33" cy="551.50" r="1.75" fill="#a100e6" stroke="none" stroke-width="0"/>
<circle cx="317.17" cy="551.50" r="1.75" fill="#a100e6" stroke="none" stroke-width="0"/>
<circle cx="319.00" cy="551.50" r="1.75" fill="#a100e6" stroke="none" stroke-width="0"/>
<circle cx="320.83" cy="551.50" r="1.75" fill="#a100e6" stroke="none" stroke-width="0"/>
<circle cx="322.67" cy="551.50" r="1.75" fill="#a100e6" stroke="none" stroke-width="0"/>
<circle cx="324.50" cy="551.50" r="1.75" fill="#a100e6" stroke="none" stroke-width="0"/>
<circle cx="326.33" cy="551.50" r="1.75" fill="#a100e6" stroke="none" stroke-width="0"/>
<circle cx="328.17" cy="551.50" r="1.75" fill="#a100e6" stroke="none" stroke-width="0"/>
<circle cx="330.00" cy="551.50" r="1.75" fill="#a100e6" stroke="none" stroke-width="0"/>
<circle cx="318.80" cy="462.30" r="1.75" fill="#a100e6" stroke="none" stroke-width="0"/>
<circle cx="318.80" cy="466.70" r="1.75" fill="#a100e6" stroke="none" stroke-width="0"/>
<circle cx="318.80" cy="482.40" r="1.75" fill="#a100e6" stroke="none" stroke-width="0"/>
<circle cx="318.80" cy="489.10" r="1.75" fill="#a100e6" stroke="none" stroke-width="0"/>
<circle cx="315.90" cy="511.30" r="1.75" fill="#a100e6" stroke="none" stroke-width="0"/>
<circle cx="318.80" cy="510.70" r="1.75" fill="#a100e6" stroke="none" stroke-width="0"/>
<circle cx="321.00" cy="512.70" r="1.75" fill="#a100e6" stroke="none" stroke-width="0"/>
<circle cx="318.80" cy="514.20" r="1.75" fill="#a100e6" stroke="none" stroke-width="0"/>
<circle cx="317.60" cy="521.80" r="1.75" fill="#a100e6" stroke="none" stroke-width="0"/>
<circle cx="320.70" cy="521.60" r="1.75" fill="#a100e6" stroke="none" stroke-width="0"/>
<circle cx="318.80" cy="528.90" r="1.75" fill="#a100e6" stroke="none" stroke-width="0"/>
<circle cx="318.80" cy="534.70" r="1.75" fill="#a100e6" stroke="none" stroke-width="0"/>
<circle cx="318.80" cy="544.20" r="1.75" fill="#a100e6" stroke="none" stroke-width="0"/>
<circle cx="322.00" cy="542.70" r="1.75" fill="#a100e6" stroke="none" stroke-width="0"/>
<circle cx="327.20" cy="545.80" r="1.75" fill="#a100e6" stroke="none" stroke-width="0"/>
<circle cx="310.50" cy="548.50" r="1.75" fill="#a100e6" stroke="none" stroke-width="0"/>
<circle cx="315.90" cy="550.00" r="1.75" fill="#a100e6" stroke="none" stroke-width="0"/>
<line x1="393.6" y1="443.1" x2="393.6" y2="552.8" stroke="#111" stroke-width="1.2"/>
<line x1="389.0" y1="552.8" x2="521.7" y2="552.8" stroke="#111" stroke-width="1.2"/>
<line x1="389.0" y1="552.8" x2="393.6" y2="552.8" stroke="#111" stroke-width="1.2"/>
<text transform="translate(385.60 556.32) scale(1 1.07)" font-size="9.45" text-anchor="end" font-weight="normal" font-style="normal" fill="#1a1a1a">0</text>
<line x1="389.0" y1="530.86" x2="393.6" y2="530.86" stroke="#111" stroke-width="1.2"/>
<text transform="translate(385.60 534.38) scale(1 1.07)" font-size="9.45" text-anchor="end" font-weight="normal" font-style="normal" fill="#1a1a1a">20</text>
<line x1="389.0" y1="508.91999999999996" x2="393.6" y2="508.91999999999996" stroke="#111" stroke-width="1.2"/>
<text transform="translate(385.60 512.44) scale(1 1.07)" font-size="9.45" text-anchor="end" font-weight="normal" font-style="normal" fill="#1a1a1a">40</text>
<line x1="389.0" y1="486.98" x2="393.6" y2="486.98" stroke="#111" stroke-width="1.2"/>
<text transform="translate(385.60 490.50) scale(1 1.07)" font-size="9.45" text-anchor="end" font-weight="normal" font-style="normal" fill="#1a1a1a">60</text>
<line x1="389.0" y1="465.04" x2="393.6" y2="465.04" stroke="#111" stroke-width="1.2"/>
<text transform="translate(385.60 468.56) scale(1 1.07)" font-size="9.45" text-anchor="end" font-weight="normal" font-style="normal" fill="#1a1a1a">80</text>
<line x1="389.0" y1="443.1" x2="393.6" y2="443.1" stroke="#111" stroke-width="1.2"/>
<text transform="translate(385.60 446.62) scale(1 1.07)" font-size="9.45" text-anchor="end" font-weight="normal" font-style="normal" fill="#1a1a1a">100</text>
<line x1="418.7" y1="552.8" x2="418.7" y2="556.9" stroke="#111" stroke-width="1.2"/>
<line x1="457.3" y1="552.8" x2="457.3" y2="556.9" stroke="#111" stroke-width="1.2"/>
<line x1="495.4" y1="552.8" x2="495.4" y2="556.9" stroke="#111" stroke-width="1.2"/>
<text transform="translate(418.60 570.20) scale(1 1.07)" font-size="9.65" text-anchor="middle" font-weight="normal" font-style="normal" fill="#1a1a1a">Control</text>
<text transform="translate(457.10 570.20) scale(1 1.07)" font-size="9.45" text-anchor="middle" font-weight="normal" font-style="normal" fill="#1a1a1a">10%</text>
<text transform="translate(495.70 570.20) scale(1 1.07)" font-size="9.45" text-anchor="middle" font-weight="normal" font-style="normal" fill="#1a1a1a">20%</text>
<text transform="translate(455.60 434.00) scale(1 1.07)" font-size="9.45" text-anchor="middle" font-weight="normal" font-style="italic" fill="#1a1a1a">Gata3</text>
<text transform="translate(356.80 498.20) rotate(-90) scale(1 1.07)" font-size="9.45" text-anchor="middle" font-weight="normal" font-style="normal" fill="#1a1a1a">A-to-G conversion</text>
<text transform="translate(367.80 498.20) rotate(-90) scale(1 1.07)" font-size="9.45" text-anchor="middle" font-weight="normal" font-style="normal" fill="#1a1a1a">in morula &amp; blastocyst (%)</text>
<circle cx="408.00" cy="552.80" r="1.75" fill="#ff0684" stroke="none" stroke-width="0"/>
<circle cx="409.88" cy="552.80" r="1.75" fill="#ff0684" stroke="none" stroke-width="0"/>
<circle cx="411.75" cy="552.80" r="1.75" fill="#ff0684" stroke="none" stroke-width="0"/>
<circle cx="413.62" cy="552.80" r="1.75" fill="#ff0684" stroke="none" stroke-width="0"/>
<circle cx="415.50" cy="552.80" r="1.75" fill="#ff0684" stroke="none" stroke-width="0"/>
<circle cx="417.38" cy="552.80" r="1.75" fill="#ff0684" stroke="none" stroke-width="0"/>
<circle cx="419.25" cy="552.80" r="1.75" fill="#ff0684" stroke="none" stroke-width="0"/>
<circle cx="421.12" cy="552.80" r="1.75" fill="#ff0684" stroke="none" stroke-width="0"/>
<circle cx="423.00" cy="552.80" r="1.75" fill="#ff0684" stroke="none" stroke-width="0"/>
<circle cx="424.88" cy="552.80" r="1.75" fill="#ff0684" stroke="none" stroke-width="0"/>
<circle cx="426.75" cy="552.80" r="1.75" fill="#ff0684" stroke="none" stroke-width="0"/>
<circle cx="428.62" cy="552.80" r="1.75" fill="#ff0684" stroke="none" stroke-width="0"/>
<circle cx="430.50" cy="552.80" r="1.75" fill="#ff0684" stroke="none" stroke-width="0"/>
<circle cx="446.00" cy="552.80" r="1.75" fill="#ff0684" stroke="none" stroke-width="0"/>
<circle cx="447.92" cy="552.80" r="1.75" fill="#ff0684" stroke="none" stroke-width="0"/>
<circle cx="449.83" cy="552.80" r="1.75" fill="#ff0684" stroke="none" stroke-width="0"/>
<circle cx="451.75" cy="552.80" r="1.75" fill="#ff0684" stroke="none" stroke-width="0"/>
<circle cx="453.67" cy="552.80" r="1.75" fill="#ff0684" stroke="none" stroke-width="0"/>
<circle cx="455.58" cy="552.80" r="1.75" fill="#ff0684" stroke="none" stroke-width="0"/>
<circle cx="457.50" cy="552.80" r="1.75" fill="#ff0684" stroke="none" stroke-width="0"/>
<circle cx="459.42" cy="552.80" r="1.75" fill="#ff0684" stroke="none" stroke-width="0"/>
<circle cx="461.33" cy="552.80" r="1.75" fill="#ff0684" stroke="none" stroke-width="0"/>
<circle cx="463.25" cy="552.80" r="1.75" fill="#ff0684" stroke="none" stroke-width="0"/>
<circle cx="465.17" cy="552.80" r="1.75" fill="#ff0684" stroke="none" stroke-width="0"/>
<circle cx="467.08" cy="552.80" r="1.75" fill="#ff0684" stroke="none" stroke-width="0"/>
<circle cx="469.00" cy="552.80" r="1.75" fill="#ff0684" stroke="none" stroke-width="0"/>
<circle cx="485.00" cy="552.80" r="1.75" fill="#ff0684" stroke="none" stroke-width="0"/>
<circle cx="486.83" cy="552.80" r="1.75" fill="#ff0684" stroke="none" stroke-width="0"/>
<circle cx="488.67" cy="552.80" r="1.75" fill="#ff0684" stroke="none" stroke-width="0"/>
<circle cx="490.50" cy="552.80" r="1.75" fill="#ff0684" stroke="none" stroke-width="0"/>
<circle cx="492.33" cy="552.80" r="1.75" fill="#ff0684" stroke="none" stroke-width="0"/>
<circle cx="494.17" cy="552.80" r="1.75" fill="#ff0684" stroke="none" stroke-width="0"/>
<circle cx="496.00" cy="552.80" r="1.75" fill="#ff0684" stroke="none" stroke-width="0"/>
<circle cx="497.83" cy="552.80" r="1.75" fill="#ff0684" stroke="none" stroke-width="0"/>
<circle cx="499.67" cy="552.80" r="1.75" fill="#ff0684" stroke="none" stroke-width="0"/>
<circle cx="501.50" cy="552.80" r="1.75" fill="#ff0684" stroke="none" stroke-width="0"/>
<circle cx="503.33" cy="552.80" r="1.75" fill="#ff0684" stroke="none" stroke-width="0"/>
<circle cx="505.17" cy="552.80" r="1.75" fill="#ff0684" stroke="none" stroke-width="0"/>
<circle cx="507.00" cy="552.80" r="1.75" fill="#ff0684" stroke="none" stroke-width="0"/>
<circle cx="457.10" cy="456.60" r="1.75" fill="#ff0684" stroke="none" stroke-width="0"/>
<circle cx="457.10" cy="460.80" r="1.75" fill="#ff0684" stroke="none" stroke-width="0"/>
<circle cx="457.10" cy="475.40" r="1.75" fill="#ff0684" stroke="none" stroke-width="0"/>
<circle cx="450.70" cy="486.00" r="1.75" fill="#ff0684" stroke="none" stroke-width="0"/>
<circle cx="450.70" cy="490.80" r="1.75" fill="#ff0684" stroke="none" stroke-width="0"/>
<circle cx="450.70" cy="496.90" r="1.75" fill="#ff0684" stroke="none" stroke-width="0"/>
<circle cx="450.70" cy="501.50" r="1.75" fill="#ff0684" stroke="none" stroke-width="0"/>
<circle cx="450.70" cy="505.30" r="1.75" fill="#ff0684" stroke="none" stroke-width="0"/>
<circle cx="450.70" cy="510.10" r="1.75" fill="#ff0684" stroke="none" stroke-width="0"/>
<circle cx="450.70" cy="514.50" r="1.75" fill="#ff0684" stroke="none" stroke-width="0"/>
<circle cx="457.30" cy="487.60" r="1.75" fill="#ff0684" stroke="none" stroke-width="0"/>
<circle cx="457.30" cy="494.50" r="1.75" fill="#ff0684" stroke="none" stroke-width="0"/>
<circle cx="457.30" cy="499.80" r="1.75" fill="#ff0684" stroke="none" stroke-width="0"/>
<circle cx="457.30" cy="507.50" r="1.75" fill="#ff0684" stroke="none" stroke-width="0"/>
<circle cx="457.30" cy="512.50" r="1.75" fill="#ff0684" stroke="none" stroke-width="0"/>
<circle cx="463.90" cy="485.60" r="1.75" fill="#ff0684" stroke="none" stroke-width="0"/>
<circle cx="463.90" cy="489.50" r="1.75" fill="#ff0684" stroke="none" stroke-width="0"/>
<circle cx="463.90" cy="494.50" r="1.75" fill="#ff0684" stroke="none" stroke-width="0"/>
<circle cx="463.90" cy="499.30" r="1.75" fill="#ff0684" stroke="none" stroke-width="0"/>
<circle cx="463.90" cy="504.10" r="1.75" fill="#ff0684" stroke="none" stroke-width="0"/>
<circle cx="463.90" cy="508.50" r="1.75" fill="#ff0684" stroke="none" stroke-width="0"/>
<circle cx="463.90" cy="512.80" r="1.75" fill="#ff0684" stroke="none" stroke-width="0"/>
<circle cx="450.40" cy="526.10" r="1.75" fill="#ff0684" stroke="none" stroke-width="0"/>
<circle cx="463.90" cy="524.30" r="1.75" fill="#ff0684" stroke="none" stroke-width="0"/>
<circle cx="457.30" cy="528.60" r="1.75" fill="#ff0684" stroke="none" stroke-width="0"/>
<circle cx="463.90" cy="528.60" r="1.75" fill="#ff0684" stroke="none" stroke-width="0"/>
<circle cx="450.40" cy="531.60" r="1.75" fill="#ff0684" stroke="none" stroke-width="0"/>
<circle cx="446.10" cy="536.50" r="1.75" fill="#ff0684" stroke="none" stroke-width="0"/>
<circle cx="453.50" cy="536.10" r="1.75" fill="#ff0684" stroke="none" stroke-width="0"/>
<circle cx="457.30" cy="535.10" r="1.75" fill="#ff0684" stroke="none" stroke-width="0"/>
<circle cx="460.90" cy="536.50" r="1.75" fill="#ff0684" stroke="none" stroke-width="0"/>
<circle cx="468.20" cy="536.30" r="1.75" fill="#ff0684" stroke="none" stroke-width="0"/>
<circle cx="460.30" cy="539.70" r="1.75" fill="#ff0684" stroke="none" stroke-width="0"/>
<circle cx="453.90" cy="542.50" r="1.75" fill="#ff0684" stroke="none" stroke-width="0"/>
<circle cx="446.10" cy="547.10" r="1.75" fill="#ff0684" stroke="none" stroke-width="0"/>
<circle cx="450.40" cy="545.80" r="1.75" fill="#ff0684" stroke="none" stroke-width="0"/>
<circle cx="457.30" cy="545.80" r="1.75" fill="#ff0684" stroke="none" stroke-width="0"/>
<circle cx="463.90" cy="545.80" r="1.75" fill="#ff0684" stroke="none" stroke-width="0"/>
<circle cx="460.90" cy="548.20" r="1.75" fill="#ff0684" stroke="none" stroke-width="0"/>
<circle cx="468.20" cy="548.70" r="1.75" fill="#ff0684" stroke="none" stroke-width="0"/>
<circle cx="453.50" cy="549.30" r="1.75" fill="#ff0684" stroke="none" stroke-width="0"/>
<circle cx="447.00" cy="550.60" r="1.75" fill="#ff0684" stroke="none" stroke-width="0"/>
<circle cx="495.50" cy="443.70" r="1.75" fill="#ff0684" stroke="none" stroke-width="0"/>
<circle cx="495.50" cy="456.90" r="1.75" fill="#ff0684" stroke="none" stroke-width="0"/>
<circle cx="492.20" cy="466.40" r="1.75" fill="#ff0684" stroke="none" stroke-width="0"/>
<circle cx="492.20" cy="470.10" r="1.75" fill="#ff0684" stroke="none" stroke-width="0"/>
<circle cx="498.70" cy="468.30" r="1.75" fill="#ff0684" stroke="none" stroke-width="0"/>
<circle cx="498.70" cy="474.10" r="1.75" fill="#ff0684" stroke="none" stroke-width="0"/>
<circle cx="492.20" cy="475.90" r="1.75" fill="#ff0684" stroke="none" stroke-width="0"/>
<circle cx="498.70" cy="478.80" r="1.75" fill="#ff0684" stroke="none" stroke-width="0"/>
<circle cx="492.20" cy="480.30" r="1.75" fill="#ff0684" stroke="none" stroke-width="0"/>
<circle cx="495.50" cy="484.80" r="1.75" fill="#ff0684" stroke="none" stroke-width="0"/>
<circle cx="495.50" cy="492.00" r="1.75" fill="#ff0684" stroke="none" stroke-width="0"/>
<circle cx="502.10" cy="492.00" r="1.75" fill="#ff0684" stroke="none" stroke-width="0"/>
<circle cx="489.00" cy="494.40" r="1.75" fill="#ff0684" stroke="none" stroke-width="0"/>
<circle cx="495.50" cy="498.00" r="1.75" fill="#ff0684" stroke="none" stroke-width="0"/>
<circle cx="502.10" cy="499.80" r="1.75" fill="#ff0684" stroke="none" stroke-width="0"/>
<circle cx="489.00" cy="500.40" r="1.75" fill="#ff0684" stroke="none" stroke-width="0"/>
<circle cx="495.50" cy="500.40" r="1.75" fill="#ff0684" stroke="none" stroke-width="0"/>
<circle cx="495.50" cy="503.00" r="1.75" fill="#ff0684" stroke="none" stroke-width="0"/>
<circle cx="495.50" cy="505.30" r="1.75" fill="#ff0684" stroke="none" stroke-width="0"/>
<circle cx="489.00" cy="506.90" r="1.75" fill="#ff0684" stroke="none" stroke-width="0"/>
<circle cx="491.70" cy="508.60" r="1.75" fill="#ff0684" stroke="none" stroke-width="0"/>
<circle cx="502.10" cy="506.50" r="1.75" fill="#ff0684" stroke="none" stroke-width="0"/>
<circle cx="484.50" cy="511.30" r="1.75" fill="#ff0684" stroke="none" stroke-width="0"/>
<circle cx="499.30" cy="510.90" r="1.75" fill="#ff0684" stroke="none" stroke-width="0"/>
<circle cx="506.70" cy="510.20" r="1.75" fill="#ff0684" stroke="none" stroke-width="0"/>
<circle cx="492.30" cy="518.50" r="1.75" fill="#ff0684" stroke="none" stroke-width="0"/>
<circle cx="498.80" cy="517.60" r="1.75" fill="#ff0684" stroke="none" stroke-width="0"/>
<circle cx="488.90" cy="523.30" r="1.75" fill="#ff0684" stroke="none" stroke-width="0"/>
<circle cx="495.70" cy="522.20" r="1.75" fill="#ff0684" stroke="none" stroke-width="0"/>
<circle cx="502.40" cy="522.20" r="1.75" fill="#ff0684" stroke="none" stroke-width="0"/>
<circle cx="495.70" cy="525.70" r="1.75" fill="#ff0684" stroke="none" stroke-width="0"/>
<circle cx="498.70" cy="527.30" r="1.75" fill="#ff0684" stroke="none" stroke-width="0"/>
<circle cx="502.40" cy="526.20" r="1.75" fill="#ff0684" stroke="none" stroke-width="0"/>
<circle cx="484.50" cy="531.00" r="1.75" fill="#ff0684" stroke="none" stroke-width="0"/>
<circle cx="490.00" cy="531.30" r="1.75" fill="#ff0684" stroke="none" stroke-width="0"/>
<circle cx="492.40" cy="529.30" r="1.75" fill="#ff0684" stroke="none" stroke-width="0"/>
<circle cx="495.70" cy="532.00" r="1.75" fill="#ff0684" stroke="none" stroke-width="0"/>
<circle cx="498.70" cy="533.90" r="1.75" fill="#ff0684" stroke="none" stroke-width="0"/>
<circle cx="501.30" cy="532.00" r="1.75" fill="#ff0684" stroke="none" stroke-width="0"/>
<circle cx="506.80" cy="533.00" r="1.75" fill="#ff0684" stroke="none" stroke-width="0"/>
<circle cx="492.40" cy="535.70" r="1.75" fill="#ff0684" stroke="none" stroke-width="0"/>
<circle cx="506.80" cy="537.20" r="1.75" fill="#ff0684" stroke="none" stroke-width="0"/>
<circle cx="484.50" cy="539.30" r="1.75" fill="#ff0684" stroke="none" stroke-width="0"/>
<circle cx="488.90" cy="541.20" r="1.75" fill="#ff0684" stroke="none" stroke-width="0"/>
<circle cx="491.80" cy="539.30" r="1.75" fill="#ff0684" stroke="none" stroke-width="0"/>
<circle cx="495.70" cy="540.30" r="1.75" fill="#ff0684" stroke="none" stroke-width="0"/>
<circle cx="499.30" cy="539.10" r="1.75" fill="#ff0684" stroke="none" stroke-width="0"/>
<circle cx="502.40" cy="542.50" r="1.75" fill="#ff0684" stroke="none" stroke-width="0"/>
<circle cx="506.80" cy="543.40" r="1.75" fill="#ff0684" stroke="none" stroke-width="0"/>
<circle cx="484.50" cy="544.50" r="1.75" fill="#ff0684" stroke="none" stroke-width="0"/>
<circle cx="490.00" cy="544.50" r="1.75" fill="#ff0684" stroke="none" stroke-width="0"/>
<circle cx="495.70" cy="545.70" r="1.75" fill="#ff0684" stroke="none" stroke-width="0"/>
<circle cx="498.70" cy="547.40" r="1.75" fill="#ff0684" stroke="none" stroke-width="0"/>
<circle cx="501.30" cy="545.90" r="1.75" fill="#ff0684" stroke="none" stroke-width="0"/>
<circle cx="492.40" cy="547.70" r="1.75" fill="#ff0684" stroke="none" stroke-width="0"/>
<circle cx="486.30" cy="549.60" r="1.75" fill="#ff0684" stroke="none" stroke-width="0"/>
<circle cx="488.90" cy="551.40" r="1.75" fill="#ff0684" stroke="none" stroke-width="0"/>
<circle cx="484.50" cy="552.80" r="1.75" fill="#ff0684" stroke="none" stroke-width="0"/>
<circle cx="494.70" cy="551.00" r="1.75" fill="#ff0684" stroke="none" stroke-width="0"/>
<line x1="585.8" y1="441.4" x2="585.8" y2="552.3" stroke="#111" stroke-width="1.2"/>
<line x1="580.0" y1="552.3" x2="684" y2="552.3" stroke="#111" stroke-width="1.2"/>
<line x1="580.0" y1="552.3" x2="585.8" y2="552.3" stroke="#111" stroke-width="1.2"/>
<text transform="translate(575.60 556.02) scale(1 1.07)" font-size="9.45" text-anchor="end" font-weight="normal" font-style="normal" fill="#1a1a1a">0</text>
<line x1="580.0" y1="530.12" x2="585.8" y2="530.12" stroke="#111" stroke-width="1.2"/>
<text transform="translate(575.60 533.84) scale(1 1.07)" font-size="9.45" text-anchor="end" font-weight="normal" font-style="normal" fill="#1a1a1a">20</text>
<line x1="580.0" y1="507.93999999999994" x2="585.8" y2="507.93999999999994" stroke="#111" stroke-width="1.2"/>
<text transform="translate(575.60 511.66) scale(1 1.07)" font-size="9.45" text-anchor="end" font-weight="normal" font-style="normal" fill="#1a1a1a">40</text>
<line x1="580.0" y1="485.76" x2="585.8" y2="485.76" stroke="#111" stroke-width="1.2"/>
<text transform="translate(575.60 489.48) scale(1 1.07)" font-size="9.45" text-anchor="end" font-weight="normal" font-style="normal" fill="#1a1a1a">60</text>
<line x1="580.0" y1="463.58" x2="585.8" y2="463.58" stroke="#111" stroke-width="1.2"/>
<text transform="translate(575.60 467.30) scale(1 1.07)" font-size="9.45" text-anchor="end" font-weight="normal" font-style="normal" fill="#1a1a1a">80</text>
<line x1="580.0" y1="441.4" x2="585.8" y2="441.4" stroke="#111" stroke-width="1.2"/>
<text transform="translate(575.60 445.12) scale(1 1.07)" font-size="9.45" text-anchor="end" font-weight="normal" font-style="normal" fill="#1a1a1a">100</text>
<rect x="596.4" y="468.4" width="18.300000000000068" height="83.89999999999998" fill="#92bdf2" stroke="#111" stroke-width="1.3"/>
<line x1="605.55" y1="552.3" x2="605.55" y2="556.4" stroke="#111" stroke-width="1.2"/>
<text transform="translate(607.20 463.00) rotate(-90) scale(1 1.1)" font-size="7.9" text-anchor="start" font-weight="normal" font-style="normal" fill="#111">120 / 157</text>
<rect x="625.4" y="457.4" width="18.700000000000045" height="94.89999999999998" fill="#92bdf2" stroke="#111" stroke-width="1.3"/>
<line x1="634.75" y1="552.3" x2="634.75" y2="556.4" stroke="#111" stroke-width="1.2"/>
<text transform="translate(636.40 451.90) rotate(-90) scale(1 1.1)" font-size="7.9" text-anchor="start" font-weight="normal" font-style="normal" fill="#111">115 / 133</text>
<rect x="654.5" y="463.9" width="19.0" height="88.39999999999998" fill="#92bdf2" stroke="#111" stroke-width="1.3"/>
<line x1="664.0" y1="552.3" x2="664.0" y2="556.4" stroke="#111" stroke-width="1.2"/>
<text transform="translate(665.60 457.10) rotate(-90) scale(1 1.1)" font-size="7.9" text-anchor="start" font-weight="normal" font-style="normal" fill="#111">111 / 147</text>
<text transform="translate(605.00 570.20) scale(1 1.07)" font-size="9.65" text-anchor="middle" font-weight="normal" font-style="normal" fill="#1a1a1a">Control</text>
<text transform="translate(634.50 570.20) scale(1 1.07)" font-size="9.45" text-anchor="middle" font-weight="normal" font-style="normal" fill="#1a1a1a">10%</text>
<text transform="translate(663.90 570.20) scale(1 1.07)" font-size="9.45" text-anchor="middle" font-weight="normal" font-style="normal" fill="#1a1a1a">20%</text>
<text transform="translate(542.70 499.70) rotate(-90) scale(1 1.07)" font-size="9.45" text-anchor="middle" font-weight="normal" font-style="normal" fill="#1a1a1a">Morula &amp; Blastocyst</text>
<text transform="translate(553.20 499.70) rotate(-90) scale(1 1.07)" font-size="9.45" text-anchor="middle" font-weight="normal" font-style="normal" fill="#1a1a1a">/2-cell embryos (%)</text>
<text transform="translate(43.80 42.90) scale(1 1.07)" font-size="9.45" text-anchor="middle" font-weight="normal" font-style="normal" fill="#1a1a1a">CRISPR-RNPs</text>
<text transform="translate(43.90 54.60) scale(1 1.07)" font-size="9.45" text-anchor="middle" font-weight="normal" font-style="normal" fill="#1a1a1a">packaged in VLPs</text>
<ellipse cx="48.9" cy="152.5" rx="27.2" ry="15.3" fill="#e3eef3" stroke="#b9c4c9" stroke-width="0.8"/>
<rect x="21.7" y="144" width="54.4" height="8.5" fill="#e3eef3"/>
<line x1="21.7" y1="144" x2="21.7" y2="152.5" stroke="#b9c4c9" stroke-width="0.8"/>
<line x1="76.1" y1="144" x2="76.1" y2="152.5" stroke="#b9c4c9" stroke-width="0.8"/>
<ellipse cx="48.9" cy="144" rx="27.2" ry="14.6" fill="#e9eff2" stroke="#b9c4c9" stroke-width="0.8"/>
<ellipse cx="48.9" cy="146.5" rx="25.2" ry="12.3" fill="#d8edf5" stroke="#a9cfe0" stroke-width="0.6"/>
<ellipse cx="43.5" cy="141.0" rx="3.0" ry="2.2" fill="#f09a9d" stroke="#e8878b" stroke-width="0.5"/>
<ellipse cx="43.5" cy="141.0" rx="1.2" ry="0.8" fill="#f8cfd0"/>
<ellipse cx="56.5" cy="140.5" rx="3.0" ry="2.2" fill="#f09a9d" stroke="#e8878b" stroke-width="0.5"/>
<ellipse cx="56.5" cy="140.5" rx="1.2" ry="0.8" fill="#f8cfd0"/>
<ellipse cx="40" cy="144.5" rx="3.0" ry="2.2" fill="#f09a9d" stroke="#e8878b" stroke-width="0.5"/>
<ellipse cx="40" cy="144.5" rx="1.2" ry="0.8" fill="#f8cfd0"/>
<ellipse cx="46" cy="144.5" rx="3.0" ry="2.2" fill="#f09a9d" stroke="#e8878b" stroke-width="0.5"/>
<ellipse cx="46" cy="144.5" rx="1.2" ry="0.8" fill="#f8cfd0"/>
<ellipse cx="52" cy="144.5" rx="3.0" ry="2.2" fill="#f09a9d" stroke="#e8878b" stroke-width="0.5"/>
<ellipse cx="52" cy="144.5" rx="1.2" ry="0.8" fill="#f8cfd0"/>
<ellipse cx="58" cy="144.5" rx="3.0" ry="2.2" fill="#f09a9d" stroke="#e8878b" stroke-width="0.5"/>
<ellipse cx="58" cy="144.5" rx="1.2" ry="0.8" fill="#f8cfd0"/>
<ellipse cx="37" cy="148.5" rx="3.0" ry="2.2" fill="#f09a9d" stroke="#e8878b" stroke-width="0.5"/>
<ellipse cx="37" cy="148.5" rx="1.2" ry="0.8" fill="#f8cfd0"/>
<ellipse cx="43" cy="148.5" rx="3.0" ry="2.2" fill="#f09a9d" stroke="#e8878b" stroke-width="0.5"/>
<ellipse cx="43" cy="148.5" rx="1.2" ry="0.8" fill="#f8cfd0"/>
<ellipse cx="49" cy="148.5" rx="3.0" ry="2.2" fill="#f09a9d" stroke="#e8878b" stroke-width="0.5"/>
<ellipse cx="49" cy="148.5" rx="1.2" ry="0.8" fill="#f8cfd0"/>
<ellipse cx="55" cy="148.5" rx="3.0" ry="2.2" fill="#f09a9d" stroke="#e8878b" stroke-width="0.5"/>
<ellipse cx="55" cy="148.5" rx="1.2" ry="0.8" fill="#f8cfd0"/>
<ellipse cx="61" cy="148.5" rx="3.0" ry="2.2" fill="#f09a9d" stroke="#e8878b" stroke-width="0.5"/>
<ellipse cx="61" cy="148.5" rx="1.2" ry="0.8" fill="#f8cfd0"/>
<ellipse cx="65" cy="149" rx="3.0" ry="2.2" fill="#f09a9d" stroke="#e8878b" stroke-width="0.5"/>
<ellipse cx="65" cy="149" rx="1.2" ry="0.8" fill="#f8cfd0"/>
<ellipse cx="34" cy="151.5" rx="3.0" ry="2.2" fill="#f09a9d" stroke="#e8878b" stroke-width="0.5"/>
<ellipse cx="34" cy="151.5" rx="1.2" ry="0.8" fill="#f8cfd0"/>
<ellipse cx="40" cy="151.5" rx="3.0" ry="2.2" fill="#f09a9d" stroke="#e8878b" stroke-width="0.5"/>
<ellipse cx="40" cy="151.5" rx="1.2" ry="0.8" fill="#f8cfd0"/>
<ellipse cx="46" cy="151.5" rx="3.0" ry="2.2" fill="#f09a9d" stroke="#e8878b" stroke-width="0.5"/>
<ellipse cx="46" cy="151.5" rx="1.2" ry="0.8" fill="#f8cfd0"/>
<ellipse cx="52" cy="151.5" rx="3.0" ry="2.2" fill="#f09a9d" stroke="#e8878b" stroke-width="0.5"/>
<ellipse cx="52" cy="151.5" rx="1.2" ry="0.8" fill="#f8cfd0"/>
<ellipse cx="58" cy="151.5" rx="3.0" ry="2.2" fill="#f09a9d" stroke="#e8878b" stroke-width="0.5"/>
<ellipse cx="58" cy="151.5" rx="1.2" ry="0.8" fill="#f8cfd0"/>
<ellipse cx="39" cy="155.5" rx="3.0" ry="2.2" fill="#f09a9d" stroke="#e8878b" stroke-width="0.5"/>
<ellipse cx="39" cy="155.5" rx="1.2" ry="0.8" fill="#f8cfd0"/>
<ellipse cx="45" cy="155.5" rx="3.0" ry="2.2" fill="#f09a9d" stroke="#e8878b" stroke-width="0.5"/>
<ellipse cx="45" cy="155.5" rx="1.2" ry="0.8" fill="#f8cfd0"/>
<ellipse cx="51" cy="155.5" rx="3.0" ry="2.2" fill="#f09a9d" stroke="#e8878b" stroke-width="0.5"/>
<ellipse cx="51" cy="155.5" rx="1.2" ry="0.8" fill="#f8cfd0"/>
<ellipse cx="57" cy="154.5" rx="3.0" ry="2.2" fill="#f09a9d" stroke="#e8878b" stroke-width="0.5"/>
<ellipse cx="57" cy="154.5" rx="1.2" ry="0.8" fill="#f8cfd0"/>
<ellipse cx="42" cy="158.5" rx="3.0" ry="2.2" fill="#f09a9d" stroke="#e8878b" stroke-width="0.5"/>
<ellipse cx="42" cy="158.5" rx="1.2" ry="0.8" fill="#f8cfd0"/>
<ellipse cx="48" cy="158" rx="3.0" ry="2.2" fill="#f09a9d" stroke="#e8878b" stroke-width="0.5"/>
<ellipse cx="48" cy="158" rx="1.2" ry="0.8" fill="#f8cfd0"/>
<polygon points="25.3,114.6 30.6,95.5 43.5,110.8" fill="#d8c3ea"/>
<circle cx="51.4" cy="89.8" r="21.5" fill="#f7f1fc" stroke="#cfb3e3" stroke-width="0.9"/>
<circle cx="57.4" cy="75" r="3.0" fill="#f4ecd2" stroke="#7393b8" stroke-width="1.2"/>
<circle cx="47.5" cy="79" r="3.0" fill="#f4ecd2" stroke="#7393b8" stroke-width="1.2"/>
<circle cx="40.8" cy="84.8" r="3.0" fill="#f4ecd2" stroke="#7393b8" stroke-width="1.2"/>
<circle cx="54.9" cy="85.3" r="3.0" fill="#f4ecd2" stroke="#7393b8" stroke-width="1.2"/>
<circle cx="63.8" cy="83.3" r="3.0" fill="#f4ecd2" stroke="#7393b8" stroke-width="1.2"/>
<circle cx="47" cy="92.8" r="3.0" fill="#f4ecd2" stroke="#7393b8" stroke-width="1.2"/>
<circle cx="38" cy="94.8" r="3.0" fill="#f4ecd2" stroke="#7393b8" stroke-width="1.2"/>
<circle cx="61.6" cy="93.2" r="3.0" fill="#f4ecd2" stroke="#7393b8" stroke-width="1.2"/>
<circle cx="53.8" cy="99.6" r="3.0" fill="#f4ecd2" stroke="#7393b8" stroke-width="1.2"/>
<circle cx="44.3" cy="103" r="3.0" fill="#f4ecd2" stroke="#7393b8" stroke-width="1.2"/>
<polygon points="2.3,92.4 8.2,89.0 15.6,100.8 10.5,104.0" fill="#d5dde3" stroke="#8f999f" stroke-width="0.6"/>
<polygon points="10.5,104.0 15.6,100.8 20.5,110.1 16.9,112.6" fill="#e6eff1" stroke="#8f999f" stroke-width="0.6"/>
<polygon points="16.9,112.6 20.5,110.1 36.8,139.3 35.6,139.6" fill="#d4b6ec" stroke="#8f8a9a" stroke-width="0.6"/>
<text transform="translate(77.00 255.00) scale(1 1.07)" font-size="9.45" text-anchor="middle" font-weight="normal" font-style="normal" fill="#1a1a1a">CRISPR-RNPs</text>
<text transform="translate(77.40 266.20) scale(1 1.07)" font-size="9.45" text-anchor="middle" font-weight="normal" font-style="normal" fill="#1a1a1a">packaged in VLPs</text>
<text transform="translate(58.00 345.80) scale(1 1.07)" font-size="9.45" text-anchor="middle" font-weight="normal" font-style="normal" fill="#1a1a1a">Fertilized 1-cell stage</text>
<text transform="translate(57.90 356.30) scale(1 1.07)" font-size="9.45" text-anchor="middle" font-weight="normal" font-style="normal" fill="#1a1a1a">embryos</text>
<circle cx="17.2" cy="258" r="2.7" fill="#f4ead0" stroke="#7596bb" stroke-width="1.1"/>
<circle cx="26.3" cy="259.4" r="2.7" fill="#f4ead0" stroke="#7596bb" stroke-width="1.1"/>
<circle cx="10.5" cy="264.3" r="2.7" fill="#f4ead0" stroke="#7596bb" stroke-width="1.1"/>
<circle cx="20" cy="265.8" r="2.7" fill="#f4ead0" stroke="#7596bb" stroke-width="1.1"/>
<circle cx="14.8" cy="272.5" r="2.7" fill="#f4ead0" stroke="#7596bb" stroke-width="1.1"/>
<polygon points="23.2,273.2 27.4,269.4 33.8,275.3 30.2,278.1" fill="#d5dde3" stroke="#8f999f" stroke-width="0.5"/>
<polygon points="30.2,278.1 33.8,275.3 38.7,280.2 35.2,283" fill="#e6eff1" stroke="#8f999f" stroke-width="0.5"/>
<polygon points="35.2,283 38.7,280.2 50.2,295.2 49.6,295.6" fill="#d4b6ec" stroke="#8f8a9a" stroke-width="0.5"/>
<polygon points="51.5,311.5 65,311.5 58.1,320.8" fill="#b9cce0"/>
<ellipse cx="58.1" cy="322.6" rx="13.8" ry="2.6" fill="#d6ebf4" stroke="#9ec4d8" stroke-width="0.6"/>
<ellipse cx="58.1" cy="320.9" rx="13.8" ry="2.4" fill="#e4f1f7" stroke="#9ec4d8" stroke-width="0.6"/>
<circle cx="58.4" cy="299.2" r="13.5" fill="#e7eef8" stroke="#a9bdd6" stroke-width="0.8"/>
<circle cx="53.2" cy="292.2" r="2.5" fill="#e9929f"/>
<circle cx="60.2" cy="290.5" r="2.5" fill="#e9929f"/>
<circle cx="48.5" cy="299.5" r="2.5" fill="#e9929f"/>
<circle cx="57.9" cy="299.5" r="2.5" fill="#e9929f"/>
<circle cx="67.2" cy="297.8" r="2.5" fill="#e9929f"/>
<circle cx="56" cy="307" r="2.5" fill="#e9929f"/>
<circle cx="64" cy="306" r="2.5" fill="#e9929f"/>
<path d="M82.6,304.7 H110.4 M110.4,278.4 V331.3 M110.4,278.4 H138.5 M110.4,331.3 H138.5" stroke="#505050" stroke-width="0.85" fill="none"/>
<polygon points="141,278.4 136.6,276.7 136.6,280.1" fill="#404040"/>
<polygon points="141,331.3 136.6,329.6 136.6,333.0" fill="#404040"/>
<circle cx="145.7" cy="232.2" r="3.5" fill="#dceaf5" stroke="#e7a3b3" stroke-width="0.8"/>
<path d="M142.6,232.5 A3.1,3.1 0 0 1 148.79999999999998,232.5 Z" fill="#5b90c2"/>
<circle cx="153.1" cy="232.2" r="3.5" fill="#dceaf5" stroke="#e7a3b3" stroke-width="0.8"/>
<path d="M150.0,232.5 A3.1,3.1 0 0 1 156.2,232.5 Z" fill="#5b90c2"/>
<circle cx="142.2" cy="240" r="3.5" fill="#dceaf5" stroke="#e7a3b3" stroke-width="0.8"/>
<path d="M139.1,240.3 A3.1,3.1 0 0 1 145.29999999999998,240.3 Z" fill="#5b90c2"/>
<circle cx="150" cy="240" r="3.5" fill="#dceaf5" stroke="#e7a3b3" stroke-width="0.8"/>
<path d="M146.9,240.3 A3.1,3.1 0 0 1 153.1,240.3 Z" fill="#5b90c2"/>
<circle cx="157.8" cy="239.3" r="3.5" fill="#dceaf5" stroke="#e7a3b3" stroke-width="0.8"/>
<path d="M154.70000000000002,239.60000000000002 A3.1,3.1 0 0 1 160.9,239.60000000000002 Z" fill="#5b90c2"/>
<circle cx="145.7" cy="247" r="3.5" fill="#dceaf5" stroke="#e7a3b3" stroke-width="0.8"/>
<path d="M142.6,247.3 A3.1,3.1 0 0 1 148.79999999999998,247.3 Z" fill="#5b90c2"/>
<circle cx="153.1" cy="246.6" r="3.5" fill="#dceaf5" stroke="#e7a3b3" stroke-width="0.8"/>
<path d="M150.0,246.9 A3.1,3.1 0 0 1 156.2,246.9 Z" fill="#5b90c2"/>
<text transform="translate(170.00 239.60) scale(1 1.07)" font-size="9.45" text-anchor="start" font-weight="normal" font-style="normal" fill="#1a1a1a">Morula &amp; blastocyst</text>
<path d="M154.3,259 L157,256 L178,256 L178,283.4 L156,283.4 L154.3,281 Z" fill="#c9ced1"/>
<path d="M157,256 L178,256 L176,259 L154.3,259 Z" fill="#dde1e3"/>
<path d="M154.3,280 L178,280 L178,283.4 L156,283.4 Z" fill="#e3e6e8"/>
<path d="M172.4,258 L179,249.5 L205,249 L207,252 L206.8,281 L177,281.5 L177,259 Z" fill="#505152"/>
<path d="M172.4,258 L179,249.5 L181,249.5 L181,259 Z" fill="#3d3e3f"/>
<rect x="184" y="250.8" width="19.5" height="10.3" fill="#d7e8f1" stroke="#3a3a3a" stroke-width="0.5"/>
<rect x="161.3" y="271.7" width="20.4" height="9.4" fill="#424344"/>
<rect x="164" y="275" width="12" height="2" fill="#5d5e5f"/>
<text transform="translate(181.00 297.80) scale(1 1.07)" font-size="9.45" text-anchor="middle" font-weight="normal" font-style="normal" fill="#1a1a1a">NGS analysis</text>
<circle cx="157" cy="317.3" r="3.4" fill="#e6939b" stroke="#c4e3f3" stroke-width="1.0"/>
<path d="M155.5,316.5 Q157,317.90000000000003 158.6,316.8" stroke="#f3c9cd" stroke-width="0.6" fill="none"/>
<circle cx="164.6" cy="317.3" r="3.4" fill="#e6939b" stroke="#c4e3f3" stroke-width="1.0"/>
<path d="M163.1,316.5 Q164.6,317.90000000000003 166.2,316.8" stroke="#f3c9cd" stroke-width="0.6" fill="none"/>
<circle cx="152.3" cy="324.9" r="3.4" fill="#e6939b" stroke="#c4e3f3" stroke-width="1.0"/>
<path d="M150.8,324.09999999999997 Q152.3,325.5 153.9,324.4" stroke="#f3c9cd" stroke-width="0.6" fill="none"/>
<circle cx="160.7" cy="325.3" r="3.4" fill="#e6939b" stroke="#c4e3f3" stroke-width="1.0"/>
<path d="M159.2,324.5 Q160.7,325.90000000000003 162.29999999999998,324.8" stroke="#f3c9cd" stroke-width="0.6" fill="none"/>
<circle cx="168.5" cy="324.9" r="3.4" fill="#e6939b" stroke="#c4e3f3" stroke-width="1.0"/>
<path d="M167.0,324.09999999999997 Q168.5,325.5 170.1,324.4" stroke="#f3c9cd" stroke-width="0.6" fill="none"/>
<circle cx="156" cy="332.7" r="3.4" fill="#e6939b" stroke="#c4e3f3" stroke-width="1.0"/>
<path d="M154.5,331.9 Q156,333.3 157.6,332.2" stroke="#f3c9cd" stroke-width="0.6" fill="none"/>
<circle cx="164.6" cy="332.7" r="3.4" fill="#e6939b" stroke="#c4e3f3" stroke-width="1.0"/>
<path d="M163.1,331.9 Q164.6,333.3 166.2,332.2" stroke="#f3c9cd" stroke-width="0.6" fill="none"/>
<text transform="translate(193.80 320.60) scale(1 1.07)" font-size="9.45" text-anchor="middle" font-weight="normal" font-style="normal" fill="#1a1a1a">2-cell</text>
<path d="M167.12,359.23 C167.01,359.99 166.22,362.39 166.46,363.79 C166.70,365.18 167.25,366.79 168.55,367.58 C169.84,368.38 171.71,368.44 174.25,368.53 C176.78,368.63 181.05,368.06 183.74,368.15 C186.43,368.25 188.33,368.53 190.39,369.10 C192.45,369.67 195.14,371.16 196.09,371.57 " stroke="#e6a6a6" stroke-width="1.2" fill="none"/>
<path d="M166.65,358.09 C166.24,356.63 165.92,352.71 166.08,350.49 C166.24,348.27 166.87,346.37 167.60,344.79 C168.33,343.21 169.18,342.02 170.45,340.99 C171.71,339.96 173.45,339.41 175.19,338.62 C176.94,337.83 178.99,337.12 180.89,336.25 C182.79,335.37 184.85,334.35 186.59,333.40 C188.33,332.45 189.76,331.34 191.34,330.55 C192.92,329.76 194.79,329.03 196.09,328.65 C197.39,328.27 198.62,327.79 199.13,328.27 C199.63,328.74 199.36,330.33 199.13,331.50 C198.89,332.67 198.26,333.87 197.70,335.30 C197.15,336.72 196.39,338.54 195.80,340.04 C195.22,341.55 194.93,342.89 194.19,344.32 C193.44,345.74 192.34,347.25 191.34,348.59 C190.34,349.94 189.15,351.12 188.21,352.39 C187.26,353.66 186.86,355.08 185.64,356.19 C184.42,357.30 182.79,358.45 180.89,359.04 C178.99,359.62 176.30,359.67 174.25,359.70 C172.19,359.73 169.81,359.50 168.55,359.23 C167.28,358.96 167.06,359.54 166.65,358.09 Z" fill="#e9e6e3"/>
<path d="M166.27,354.29 C167.53,353.94 171.65,355.78 174.25,355.81 C176.84,355.84 179.47,355.33 181.84,354.48 C184.22,353.62 186.64,352.06 188.49,350.68 C190.34,349.30 192.40,346.64 192.95,346.22 C193.51,345.79 192.56,347.12 191.81,348.12 C191.07,349.11 189.52,350.89 188.49,352.20 C187.46,353.51 186.91,354.86 185.64,356.00 C184.37,357.14 182.79,358.42 180.89,359.04 C178.99,359.65 176.30,359.67 174.25,359.70 C172.19,359.73 169.81,359.53 168.55,359.23 C167.28,358.93 167.03,358.72 166.65,357.90 C166.27,357.07 165.00,354.64 166.27,354.29 Z" fill="#d9d4cf"/>
<ellipse cx="186.6" cy="332.4" rx="1.9" ry="1.2" fill="#eaa7ac"/>
<ellipse cx="197.4" cy="336.4" rx="1.0" ry="1.8" fill="#eaa7ac"/>
<ellipse cx="194.6" cy="344.8" rx="1.0" ry="1.7" fill="#eaa7ac"/>
<ellipse cx="185.3" cy="358.0" rx="1.8" ry="1.0" fill="#eaa7ac"/>
<ellipse cx="181.6" cy="359.7" rx="1.7" ry="0.9" fill="#eaa7ac"/>
<ellipse cx="198.8" cy="329.0" rx="0.8" ry="1.2" fill="#eaa7ac"/>
<circle cx="199.2" cy="328.6" r="0.8" fill="#e9a6ab"/>
<path d="M159.7,338.2 Q162,345 169.5,347" stroke="#333" stroke-width="0.6" fill="none"/>
<polygon points="171.6,347.5 168.4,345.4 168.2,348.7" fill="#333"/>
<path d="M149.6,251.3 Q151,260 161,262.2" stroke="#333" stroke-width="0.6" fill="none"/>
<polygon points="163.2,262.6 159.8,260.6 159.6,263.9" fill="#333"/>
<text transform="translate(177.50 386.30) scale(1 1.07)" font-size="9.45" text-anchor="middle" font-weight="normal" font-style="normal" fill="#1a1a1a">Embryo transfer</text>
</svg></body></html>
